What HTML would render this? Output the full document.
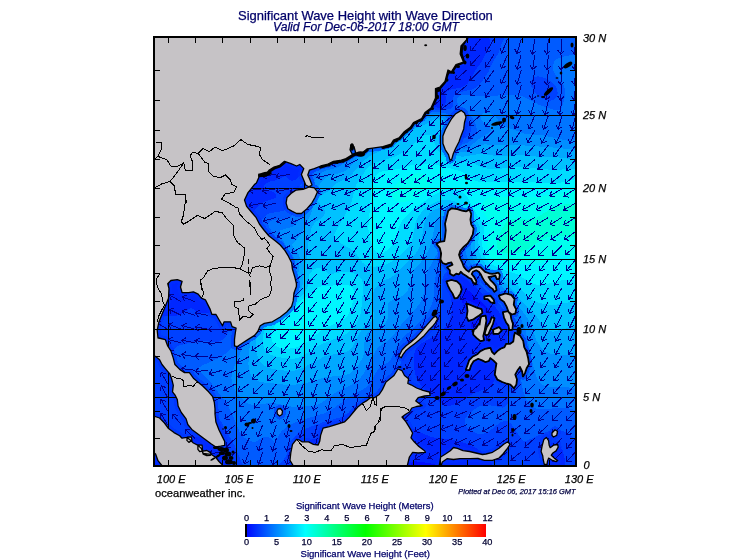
<!DOCTYPE html>
<html><head><meta charset="utf-8"><title>Significant Wave Height with Wave Direction</title>
<style>html,body{margin:0;padding:0;background:#fff}svg{display:block}text{font-family:"Liberation Sans",sans-serif;stroke-width:.25px}</style>
</head><body>
<svg width="755" height="560" viewBox="0 0 755 560">
<rect width="755" height="560" fill="#fff"/>
<defs><clipPath id="c"><rect x="153" y="36" width="424" height="431"/></clipPath></defs>
<g clip-path="url(#c)" shape-rendering="crispEdges">
<rect x="153" y="36" width="424" height="431" fill="#000dff"/>
<path fill="#0027ff" fill-rule="evenodd" d="M153,36 577,36 577,468 449.8,468 429,463 415,461.3 405,462.9 393.6,468 203.3,468 201,465.1 199,464.5 193,465.5 187,468 153,468ZM258.5,104 253,106.5 248.2,110 244.3,114 240.6,120 238.5,126 237.8,132 238.6,138 241.2,144 245.9,150 250.6,154 260.7,160 269,163.4 275,164.1 293,161 296.3,158 299,153.2 304.1,138 304.9,132 304.5,126 303,120.4 301,116.6 297.2,112 293,108.8 283,104.2 271,102.1 265,102.5ZM235.1,242 231.2,244 229.2,246 226.9,250 225.8,254 226.1,262 229.5,268 236.7,272 247,273.3 257,272 261.6,270 265,267 266.6,264 266.9,260 265,255.1 261,250.6 255,246.6 247,243.1 241,241.7ZM458.7,286 458.2,288 459,292 465,310.8 469.5,320 472.2,332 475,338.2 477,340.3 479,341.1 481,340.9 489,336 495,335.5 497,334.7 499.4,332 499.7,328 497,322.5 487.9,308 463.5,286 461,285Z"/>
<path fill="#0041ff" fill-rule="evenodd" d="M153,36 159.2,36 153,43.4ZM489,36 577,36 577,468 565,468 564.6,458 562.6,450 559,445.1 555,443.4 551,443.5 547,445.1 545,446.7 543,450 543,457 547.1,468 494,468 489.6,460 485,454.6 475.9,448 469,444.2 451,439.5 431,437.1 413,428.7 407,427 399,426.4 385,427.8 377,430 369,434.7 356.2,446 351,448.1 347,446.3 339,440 333,437.4 325,436.5 313,439.1 309,441 305,444.5 296.4,458 292.2,468 229,468 225.5,454 223,448 219,442.5 213,437.5 209,435.8 205,435.3 191,438.1 183,438 177,436.2 163,428.9 153,427.4 153,316.1 171,316.3 177,315.6 183,313.2 191,307.7 199,312.9 203,313.4 209,312.6 215,309.4 227.3,298 235,292.9 243,289.3 265,282 271,278.7 274,276 277,271.3 278.6,266 278.7,262 277.7,258 271,246.6 254.1,230 251.3,224 250.8,220 251.4,216 255,209.5 261,203.4 265,201.4 275.8,198 276.5,196 275,193 263.5,188 264,186 265.6,184 269,181.7 275,180.5 285,176 291,180.8 295,180.3 301.7,174 309,159.8 320,144 324.4,136 329.1,124 338.2,94 341,88 345,82.2 351,77 359,73.3 369,71.9 379,73 385,75 393,79.2 429.5,104 435,106.9 439,107.9 443.5,106 445.3,104 446,102 445.4,94 447,91.7 451,89.3 461,87.7 467.1,84 470.5,80 475.5,70 481.4,62 490,46 490.2,42ZM455.6,276 451,279.2 449,284 449,290 451.6,302 451.9,308 451,316 448,324 443.3,330 439,333.6 423,342.4 418.1,346 415,350.7 413.5,358 413.8,366 415,373.3 417,379 420,384 425,389.4 439.9,402 445,405.1 449,406 455.3,404 473,393.7 488,388 492.7,384 496.2,376 500.9,358 506.9,340 507.9,334 507.4,328 505,321.4 499,311.8 491.3,302 467,279.3 461,276.1Z"/>
<path fill="#005bff" fill-rule="evenodd" d="M502.3,42 505.5,36 577,36 577,440.3 571.4,436 563,431 555,429.6 547,431.7 525,441.4 523,440.8 521,438.8 511.5,424 507,420.9 505,420.7 501,422 489,431.3 483,434 479,434.1 473.5,432 469,429.2 466,426 464.6,422 465.5,418 469,413.5 477,407.6 481,405.8 487,404.7 503,407.6 505,406.8 507.4,404 509.4,396 510,374 513.9,344 514.2,334 512.7,326 510.3,320 505,311.2 497,300.8 467,272.8 461,268.9 455,267.2 451,268 447.9,270 445,273.3 442.7,278 441.7,284 441.8,304 440.5,310 437.9,316 431,324.8 413,338.9 408.4,344 405.3,350 399.2,368 389,381.6 387.7,394 384.6,400 381,402.8 377,404.3 361,405.1 341,417.1 323.8,422 305,428.8 299,431.8 295,436.4 291,448 288.9,452 283,460.3 276,468 244.6,468 242.3,464 234.8,446 216.8,414 213,409.4 198.6,396 185,385.2 179.3,378 174.6,368 172.2,360 172.1,354 173.5,350 175.1,348 179,345.5 195,341.6 203,340.9 215,342.2 219,341.5 222.4,340 225,337.7 227.2,334 234,314 237.7,308 241.2,304 251,296.9 275,286 281,280.6 283.3,276 284.8,270 285.5,264 285,259.2 276.1,244 262.6,228 261.3,224 262,220 264.9,216 269,213.4 283,210.9 287.5,208 290.3,204 295.9,192 313,165.9 317,161.4 332.2,148 349,121.5 358.8,110 365,105.3 373,101.3 379,99.6 387,98.7 395,99.1 405,100.9 437,110.2 444.4,110 451,108.8 453.2,106 452.7,98 455,94.2 459,92.3 473,89.2 477,86.9 480.1,84 488.4,72 492.8,62 498.2,54ZM533.1,78 530.7,82 531.2,86 534.6,92 538.4,96 543,98.8 549,100.8 553,100.3 556.1,98 557.7,94 557.4,90 555.3,86 551,81.8 547,79 541,76.6 537,76.4ZM460,120 458.2,124 458.4,132 461,136.6 463,137.8 465,137.8 467,136.9 469.7,134 471.2,130 470.9,126 469,122.1 467,120.2 463,118.9Z"/>
<path fill="#0075ff" fill-rule="evenodd" d="M565,56 577,54.6 577,411.4 571,408.8 567,408.2 537,408.8 533,407.3 529,403.7 525,397 521.8,386 521,376 520.6,338 518.9,328 515.9,320 508.5,308 498.8,296 476.8,276 459,258.1 455,255.7 453,255.4 449,256.6 445,259.7 441,264.5 436.8,272 434.6,280 434.3,292 433,300 431,306.3 427,313.6 421,320.9 403,337.7 398.8,344 391,359.1 388.4,362 379,367.9 367,387.1 350.8,396 333.9,408 325,413.1 299,420.9 287.6,426 280.8,432 275,442.9 270.2,438 267,436.8 263,437.3 255,442.2 249,440.7 243,436.6 239.7,432 231.2,412 225.7,402 211,382.8 198.5,370 198.8,368 201.2,366 219,357.9 227,352.6 231,348.6 235,341.7 241.2,320 244.4,314 249.3,308 259,300.8 281.4,290 285,287.3 287.3,284 289,278 290.3,268 290.4,262 289.7,258 269,227.1 268.2,224 269.1,222 273,219.7 287,219 291.8,216 296.2,210 304.1,190 315,171.6 321,166.2 333,160.7 337,158 342.3,152 353.5,136 361,127.3 371,118.9 381,113.5 393,110.2 405,109.4 441,112.5 447,113.7 450.7,116 452.2,118 453.9,132 455.6,138 459,142.3 463,144 467,143.2 471.2,140 475.9,134 477,130 475.7,124 471.2,116 461.6,110 459,107 456.6,100 457.1,98 459,96 461,95.3 465,94.9 481,96.3 517,94.6 523,96.3 539,104.8 555,110.1 559,110.5 561,109 563,104.3 564.9,96 565.2,90 563,84 554.7,74 553.2,70 552.9,66 554,62 557,58.7Z"/>
<path fill="#008eff" fill-rule="evenodd" d="M435,114 441,114.6 444.5,116 446.9,118 449,122 450.2,134 451.7,140 455,144.9 461,148.4 465,148.6 469,147 479,139 490.2,132 491,130 490.2,128 483,122.1 481,119.3 481,115.7 483,113.2 485,112.6 491,113.5 495.3,116 502.3,126 525.9,134 543,135.4 567,140.6 577,140.4 577,388.2 565,387.2 549,387.5 543,385.2 539,381.7 536.9,378 533,365.8 525.5,330 520.7,318 511.3,304 503.1,294 481,274.8 472.7,266 468.6,260 465.9,254 464.2,240 463,236 459,232.1 455,231.1 451,231.9 447,235.5 427,272 425.1,278 423.6,294 421.5,300 419,304.5 414.8,310 403,322.2 393,335.8 385,342.9 379,346.5 377,348.6 364.7,372 361,377.2 357,381.1 351,384.9 336.3,392 321,403.2 315,405.6 293,407 273,402.8 253,404.9 249,404.1 245,402 239,395.9 235.1,390 232.4,384 231.4,378 233,370 242.3,348 244.9,332 247.2,324 251.5,316 259,308.2 267,303.1 289,292.1 291.4,290 293.2,286 294.7,260 293.2,256 287.7,250 284,242 280.7,238 279.4,234 280.6,230 293,226.8 299,220.6 303.3,212 308,194 315.1,180 319,174.5 325,170.7 336.1,168 343,164.2 359,144 373,131.3 385,123.6 399,118.1 411,115.9Z"/>
<path fill="#00a8ff" fill-rule="evenodd" d="M437,115.9 442.6,118 445.3,122 446.6,138 449,144.6 453,149.2 459,152.1 463,152.5 467,151.9 471.8,150 479,145.3 485,144.3 499,145.5 519,145.1 559,147.9 577,150.4 577,354.6 557,354.6 551,353.9 545,351.4 541,347.8 536.1,340 530.6,324 527.6,318 512.6,298 503.6,288 483,271.8 474.8,262 472,256 471,252 471.3,236 470.8,232 469,227.6 465,223.8 457,219.5 449,216.8 443,216 439,216.7 437,218 435.8,220 432.4,238 429.5,248 423,259.8 413.8,270 408,290 403,295.5 388.8,302 388.2,304 388.5,316 387.3,320 384.9,324 381,327 371,330.4 366.7,334 364.6,340 364.2,352 363,357.2 359,364 351.9,372 349,374 345,375.2 325,377.2 307,382.8 295,384.6 285,384.7 265,382.6 259,381.5 255,379.7 252.8,378 250.2,374 248.4,364 250.4,336 252.3,328 257,318.9 263.4,312 272.4,306 293,295.1 295,293.8 297,290.8 298.4,284 298.3,274 299.7,258 297.7,252 292.8,248 292.3,244 299.8,236 311,214 312.1,210 311.7,202 312.9,196 321.4,182 325,178.1 328.6,176 343,172 346.7,170 350.8,166 359,155.6 365,149.7 393.6,130 409,123Z"/>
<path fill="#00c2ff" fill-rule="evenodd" d="M433,119.9 437,118.6 439,119.2 441,121.6 441.8,126 441.5,138 443.8,146 449,152.5 456,156 463,156.7 481,153.6 499,156.5 521,154.6 539,156.9 559,157.5 577,159.8 577,325.9 553,331.7 549,331.2 545,328.6 536.4,316 523,302.9 511,288 504,282 487,270.5 479.2,262 477.1,258 475.3,252 474.9,246 475.8,230 475.2,226 473.9,224 465,216.3 457,210.9 449,207.9 441,207.5 433,210.3 428.9,214 426.4,218 424.2,224 421,243.8 419,248.6 415.4,254 395,274.5 391,277.3 381,282.2 375,288.2 372.4,294 371.4,300 372,306 374.2,314 374.1,318 372.7,320 365,325.7 361.3,330 353,346 350.1,350 345,352.3 325,356.1 303,367.9 295,370.5 287,370.8 277,369.8 269,368.1 264.7,366 259,360.1 256.2,352 256.1,340 258,330 261.9,322 267.2,316 273,311.6 297,296.4 299.4,294 301.6,290 302.8,284 302.5,274 307,258 308.5,242 311.6,228 315,222.4 321.8,218 324.8,214 324.7,210 318.5,202 318.2,200 319,197.6 321,195.4 329,190.8 337,182.8 345,179.3 351,175.3 363,161.4 369,156.5 387,147.1 411,130.4 427,123.5Z"/>
<path fill="#00dcff" fill-rule="evenodd" d="M423,135.8 427,134.7 429,134.7 431,135.7 437.7,150 441,154.2 447,158.6 457,161.8 471.9,162 481,167.1 485,168.4 497,169 521,166.7 549,169.6 577,169.4 577,300.9 553,305.2 545,304.4 537,302.2 531,299.4 527,296.4 518.1,286 513,281.4 489,267.4 482.3,260 479.2,252 478.3,242 479.9,228 478.9,224 463,206.3 459,203.4 453,200.7 445,199.8 437,201.4 429,205.5 423.5,210 418.6,216 415.6,222 412.3,240 409.2,246 404,252 397.1,258 391,262 385,264.8 379,266.3 373,266.7 369,266.2 365,264.7 361.9,262 356.4,254 353,250.4 335.6,240 334.2,238 334.4,234 350,206 352.1,200 354.3,190 356.7,184 365.8,170 369.8,166 375,162.9 393,157.3 404.2,152 411,147 419,138.2ZM317,267.9 321,268.3 329,273.9 331,274.2 343,271.5 349,271.8 357,274.8 361,278 363.3,284 363.5,290 361.9,300 361.2,312 358.2,320 353,328 347,333.3 341,336.4 321,344.3 301,356.8 295,358.5 289,358.8 275,356.4 269,354.2 264.7,350 263,344 263.5,334 266.4,326 273,318.3 289,306.8 303.4,294 306.2,290 307.8,286 309.5,274 313,269.9Z"/>
<path fill="#00f6ff" fill-rule="evenodd" d="M429,163.9 435,164.4 459,170.7 465,173.6 473.1,180 481,182.4 529,182.1 557,183.5 571,179.8 577,179.1 577,280.2 561,280.4 545,284.5 537,285 531,282.8 517,274.1 499,268 491,263.9 485.5,258 482.8,250 481.9,242 484.2,230 483.5,224 476.4,214 467,196.5 463,192.5 457,190.3 447,190.2 439,192.6 431,196.7 417.8,206 408,214 402.7,220 398.5,228 395.2,240 390,248 387,250.7 383,252.8 379,253 376.7,252 373.1,248 371.4,244 369.3,236 368.3,228 371.3,190 372.9,182 375.4,176 379,172.5 383,171.2 397,169.3 411,165.3ZM321,286.4 345,284.6 349,285.5 352.8,288 354,292 352.8,302 350.6,310 347,316.4 341,321.5 329,326.1 323,329.3 307,342 299,346.6 293,348.3 285,348.9 279.8,348 275.8,346 272.5,342 271.4,338 271.8,332 274.5,326 291,312 301,300 307.8,296 317,288.1Z"/>
<path fill="#00ffee" fill-rule="evenodd" d="M413,173.7 419,173.3 422.9,174 429,177.4 430.7,180 431,182 428.3,188 419.5,196 411,200.6 403,202.1 399,201.7 395,200 393,198 391.6,194 392,190 394,186 398,182 405,177.2ZM573,189.9 577,189.8 577,258.3 561,254.6 557,255.5 541,262.8 531,264.1 505,263.2 497,261.2 491,257.6 488.3,252 487.1,244 489.9,230 489.7,224 488.3,220 482.8,212 482,208 482.4,204 485,199.7 489,197.5 497,196.3 523,197.4 535,196.9 555,194ZM327,303.8 329,303.2 331.4,304 329,305.9 327,305.9ZM297,323.3 299,322.3 301,323 301,328 298.2,332 295,332.9 293,331.8 292.3,330 292.7,328Z"/>
<path fill="#00ffd4" fill-rule="evenodd" d="M567,203.8 577,204 577,237.2 559,235.8 549,236.7 543,239.1 526.6,250 519,252.5 505,253.3 501,252.2 498.2,250 496.8,246 497.3,240 501,230.6 507,221.1 513,218.7 527,219.6 533,219 537,217.4 552.3,208 559,205.5Z"/><path d="M278,409 280.5,408.5 282.5,411 282,414.5 279.5,416 277.3,414 277,411ZM187.2,437.2 191.3,436.8 191.9,440.4 188.9,442.4 186.9,440.4ZM197.9,444.8 202.1,445.2 202.6,451.1 199.7,451.7 197.9,449.3ZM202.6,451.1 206.8,450.5 211,452.9 210.4,455.3 206.8,455.6 203.2,454.1ZM153,36 466.7,36 466.7,39.6 461,46 460.2,54 463.5,62 456,64.5 451.4,71.8 448,70 445,81.4 440,87 435.5,88.5 435.5,98 431,108 425,112.5 421.7,118.5 413.5,122.5 410.3,127.3 403.9,132.1 399,137.8 393.5,140.2 391,144.2 383,146.6 372.6,148.2 367,149 362,153 355.7,153 354,146.6 351,145 350,149.8 352.5,154.6 346,158.6 340,160.5 333.5,161.3 327,164.5 320.7,166 314.3,168.6 309.4,170.2 307.8,175 310,179.7 312,185 308.9,186.7 305.7,185 303.6,179.7 301.4,174.4 303.8,168.6 299.8,164.5 296.6,166 291,163.7 284.5,161.3 279.7,165.3 274,167 269.3,170 266,174.2 258.8,174.2 258.8,177.4 256.4,183 254.4,184.6 248,192.6 244.5,200 246.6,206.4 251.4,212 256.2,217.7 259.4,224 264.3,230.5 269,236 275.5,241 280.3,245 285,250.6 288.4,256.2 291.6,262.7 292.4,269 294.8,277 296.4,283.5 296.4,286.4 294,292.9 293.2,300.9 291.6,306.5 286.7,312 280.3,317 272.3,321.8 264.3,323.4 260.2,325.8 257.8,331.4 254.6,335.4 248.2,339.4 241.8,343.5 237,346.7 234.5,345.9 234.5,339.4 235.3,333 236.1,328.2 232.1,326.6 230.5,321.8 224.1,321.8 222.5,325.8 219.3,320.2 216,314.5 211.8,314.3 210.2,309.4 207.8,304.6 205.4,299.8 201.4,298.2 198.2,294.2 193.4,291.8 188.6,292.6 182.1,292.6 180.5,287 182.1,281.3 177.3,279.7 170.9,280.5 167.7,283.7 169,288.6 168.5,298.2 165.3,306.2 162,314.3 158.8,322.3 157.2,330.3 158,338 158.8,338 165.3,339.6 167.7,346 170.9,350.9 173.3,358.1 174.9,364.5 179.7,369.4 184.5,372.6 189.4,372.6 193.4,378.2 198.2,382.2 203,386.2 208.6,391.8 212.7,396.7 214.3,402.3 215,408.7 215,414 215.9,422 219,430 222.3,436.6 224.7,441.4 224.7,445.4 220.7,446.2 215.9,447 211,443.8 204.6,439 198.2,434.2 191.8,429.4 187.8,424.5 186.1,418.9 181.3,412.5 178.1,406 177.3,399.6 174.9,394.8 172.5,391.8 173.3,385.4 171.7,379 170,374.2 166,369.4 162,364.5 159.6,359.7 155.6,356.5 153,356ZM314.3,187.8 317.5,191.8 315,197.5 311.8,203.1 307,208.7 301.4,213.5 296.6,213.5 291.8,211.1 287.8,208.7 286.1,203.1 287,197.5 291,193.5 295.8,190.2 303,189.4 309.4,187ZM153,416 155,416.5 159.6,418 164.5,423 168.5,428.5 174,432.6 179.7,435.8 182,438.2 187,437.4 190,439.8 193.4,443 198.2,445.4 201.4,448.6 203,453.5 211,454.3 215.9,457.5 219,461.5 222.3,464.7 222,467 163,467 158,460.7 155.6,454 153,452ZM294,467 290,460.3 290.9,452.3 292.5,444.3 296.5,439.4 299.7,440.2 302,441.8 308.6,441.8 313.4,444.3 318.2,445 319.8,441 320.6,435.4 323,428.2 329.4,426.6 337.5,424.2 344.7,421.8 348.7,417.8 353.5,412 357.5,407.3 362.4,403.3 366.4,400.9 370.4,397.7 374.4,397.7 379.2,394.5 382.4,389.6 386,382 394,375.5 398,369 402,370.7 404.5,375.5 408.6,378.7 407.8,383.5 411,384.8 416.6,388 423,390.4 429.4,392 430.2,395.3 424.6,396 418.2,397.7 415.8,400.9 419.8,404 422.2,405.7 416.6,406.5 411.8,408 409.4,412 405.3,414.5 402,417 406,421.8 409.4,427.4 412.6,433 411,437.8 414.2,441.8 418.2,445.9 424.6,450.7 425.4,452.3 418.2,453 412.6,452.3 409.4,457 407,467ZM398.9,356.2 402.1,349.8 406.1,345.8 411,342.1 415.8,337.8 419.8,333.4 423.8,328.9 427,324.9 430.7,320.6 433.5,317.3 435.9,316.1 437.5,319 435.4,322.8 432.2,326.8 428.2,330.8 424.1,335.7 419.5,339.8 415,343.4 410.2,347.1 405.7,350.8 402.9,354.6 401.3,357.8ZM448.5,210.9 451.7,208.5 457.3,209.3 462,210.9 466,211.7 469.4,210 471,214 470.2,219.7 471,224.5 473.4,228.5 472.6,234.2 470.2,239 467.5,243.3 463.5,246.7 460.1,250.7 458.8,254.7 460.1,258.7 462.1,262.8 463.5,266.8 466.1,270.1 468.8,272.1 470.2,270.1 472.8,268.1 476.9,266.8 480.2,267.4 482.9,270.1 484.9,272.1 488.9,273.5 492.2,274.1 495.6,273.5 498.3,272.8 499.6,274.8 498.9,278.8 496.9,278.8 495.6,275.5 492.2,276.1 488.2,276.8 490.2,280.2 492.9,282.8 495.6,286.2 496.3,290.2 494.3,291.5 492.9,288.9 490.2,286.9 487.6,284.2 484.9,281.5 482.9,278.2 480.9,274.1 478.9,271.5 476.2,270.1 472.8,271.5 471.5,274.1 474.2,277.5 476.2,281.5 475.5,284.2 472.8,281.5 471.5,278.8 468.8,277.5 466.1,275.5 462.8,273.5 460.8,271.5 458.8,274.1 456.1,273.5 453.4,275.5 450.1,273.5 450.1,270.1 447.4,267.4 450.1,266.1 452.8,264.8 451.4,262.1 448.1,262.8 446.1,264.1 442.7,262.8 440.7,259.4 441.4,253.4 440,248 436.7,244 439.6,242.2 444.5,241.4 445.3,236.6 446,230.2 445.3,223.7 446.9,217.3ZM446.7,281.5 451.4,280.2 456.8,281.5 460.1,284.8 461.5,289.5 460.1,293.5 457.4,297.6 454.8,298.2 452.8,293.5 450.1,289.5 448.1,285.5ZM499.1,295.8 505.5,293.7 511.1,295 514.3,299 513.5,304.6 515.9,309.4 515.1,313.5 511.9,314.3 508.7,311.8 506.8,306.5 504.2,301.7 500.4,299ZM466.9,303.8 471,305.4 476.6,307.8 481.4,309.4 482.2,312.7 478.2,315.9 473.4,319.1 468.6,320.7 466.9,316.7 467.8,311ZM484.6,296.6 490.2,295.8 493.5,299.8 494.3,303 491,302.2 487.8,299 484.6,299ZM503.1,312.3 507.9,311.4 510.3,314.6 511.1,319.1 512.7,323.9 512.2,329.5 509.5,330 508.7,325.5 506.3,322.3 504.2,317.5ZM481.4,316.7 485.4,315.9 486.2,320.7 485.4,324.8 484.6,329.6 483,336.1 483.8,340.1 480.6,340.9 476.6,337.7 473.4,334.5 473.4,330.4 476.6,328 479,324 479.8,324.7 480.6,319.1ZM491.8,317.5 494.3,318.3 492.7,323.9 490.2,329.5 488.2,334.3 486.2,335.1 484.9,333.5 487,327.1 490.2,322.3ZM493.5,329.7 499.1,327.3 501.5,330.5 498.3,333.7 493.5,333.7ZM515,332.9 520,336 523,340.9 524,347.3 526.4,352 528,358.6 528.8,364.2 526.4,368.2 524.8,373 523,376.2 522.4,371.4 520,366.6 517.6,369.8 515,374.6 516.7,379.4 516.2,384.3 514,388 510.3,384.3 507,383.5 502.3,381.8 497.5,379.4 495,374.6 495.9,368.2 496.7,363.4 493.5,360.2 490.2,357.8 488.6,361 485.4,361.8 482.2,360.2 478.2,358.6 473.4,361 471,365 469.4,369.8 466,369.8 467.8,365 469.4,360.2 472.6,357 477.4,354.5 480.6,351.3 485.4,349 490.2,348 491.8,352 494.3,354.5 497.5,351.3 500.7,349 504.7,347.3 506.3,344 510.3,344 513.5,341.7 514.3,336ZM461.3,110.4 464.5,112.9 466,116.9 464.5,122.5 463.7,128.9 461.3,135.3 459,141.8 455.7,148.2 453.3,153.8 451.7,159.4 450,160.2 448.5,154.6 445.3,149.8 442.9,143.4 442.9,136 445.3,129.7 448.5,124 451.7,118.5 455.7,113.7ZM439,467 440.7,457 445.5,454 450.3,450.7 453.5,447.5 457.5,448.3 463,450.7 469.6,451.5 476,453 482.4,454.5 486,454 492.5,452.3 499,448.3 503.7,444.3 507.8,441.8 510,444.3 507,449 503,454 499,458 492.5,460.3 484.5,460.3 478,458.5 470,458.7 466.4,458.7 460,458.7 453.5,459.5 447,458.7 442.3,462 440.7,467ZM543.8,439.6 546.4,437.5 548.6,440.7 549.1,445 550.2,447.7 553.9,445 557.7,444.5 558.2,447.1 556.1,450.9 552.9,453 551.3,455.2 554.5,458.4 557.7,460.5 556.1,461.6 551.8,460 548.6,458.1 547.5,461.1 547,464.3 544.3,464.3 543.2,459.5 542.7,455.7 541.1,451.4 542.1,446.1ZM552,433 555,429.8 557.5,431.4 556.7,435.4 553.5,437 552,435.4Z" fill="none" stroke="#0030ff" stroke-opacity="0.55" stroke-width="7" stroke-linejoin="round"/>
</g>
<g clip-path="url(#c)">
<path d="M168.5,36V467M236.5,36V467M304.5,36V467M372.5,36V467M440.5,36V467M508.5,36V467M153,397.5H577M153,329.5H577M153,259.5H577M153,188.5H577M153,115.5H577" stroke="#000" stroke-width="1" fill="none"/>
<path d="M167.6,424.7L160.7,413.4M159.9,418.3L160.7,413.4L165.5,414.9M167.6,411.1L161,399.6M160,404.5L161,399.6L165.7,401.2M167.6,397.5L161.4,385.8M160.2,390.7L161.4,385.8L166,387.6M167.6,383.9L161.1,372.3M160.1,377.2L161.1,372.3L165.8,374M167.6,329.2L156.1,322.3M157.6,327.1L156.1,322.3L161,321.4M181.2,424.7L172.7,414.5M172.6,419.5L172.7,414.5L177.7,415.3M181.2,356.6L168.7,352M171.1,356.4L168.7,352L173.4,350.2M181.2,342.9L168.2,339.6M171.1,343.7L168.2,339.6L172.7,337.3M181.2,329.2L168.7,324.2M171,328.7L168.7,324.2L173.4,322.6M181.2,315.4L169.2,309.4M171.1,314L169.2,309.4L174,308.1M181.2,301.6L169.4,295M171.1,299.7L169.4,295L174.3,294M194.8,438.2L185,429.3M185.6,434.3L185,429.3L190,429.4M194.8,370.3L181.6,368.5M184.9,372.3L181.6,368.5L185.8,365.8M194.8,356.6L181.6,354.5M184.8,358.4L181.6,354.5L185.9,351.8M194.8,342.9L181.7,340.1M184.7,344.1L181.7,340.1L186.1,337.7M194.8,329.2L181.9,325.4M184.6,329.7L181.9,325.4L186.5,323.3M194.8,315.4L182.1,310.9M184.6,315.2L182.1,310.9L186.8,309M194.8,301.6L182.2,296.8M184.5,301.2L182.2,296.8L186.9,295.1M208.4,383.9L195.2,385.5M199.4,388.3L195.2,385.5L198.6,381.8M208.4,370.3L195.2,371.6M199.2,374.5L195.2,371.6L198.6,367.9M208.4,356.6L195.1,356.1M198.7,359.6L195.1,356.1L198.9,353M208.4,342.9L195.2,340.6M198.4,344.5L195.2,340.6L199.5,338M208.4,329.2L195.2,326.9M198.3,330.8L195.2,326.9L199.5,324.3M208.4,315.4L195.2,312.8M198.3,316.8L195.2,312.8L199.5,310.3M222,451.8L209,454.1M213.3,456.7L209,454.1L212.1,450.2M222,411.1L209.3,414.8M213.9,416.9L209.3,414.8L212,410.6M222,397.5L209.7,402.5M214.4,404.1L209.7,402.5L212,398M222,383.9L210,389.5M214.8,390.9L210,389.5L212,384.9M222,370.3L209.2,373.9M213.7,376L209.2,373.9L211.9,369.7M222,356.6L208.8,358.1M212.9,361L208.8,358.1L212.1,354.4M222,342.9L208.6,343.1M212.4,346.4L208.6,343.1L212.3,339.8M222,329.2L208.6,329.2M212.4,332.5L208.6,329.2L212.4,325.9M235.6,465.3L226.3,474.7M231.3,474.3L226.3,474.7L226.6,469.7M235.6,451.8L226.7,461.5M231.6,460.9L226.7,461.5L226.8,456.5M235.6,438.2L226.1,447.4M231.1,447.1L226.1,447.4L226.5,442.4M235.6,424.7L225.3,433M230.3,433.2L225.3,433L226.2,428.1M235.6,411.1L224.9,418.9M229.9,419.3L224.9,418.9L226,414M235.6,397.5L224.6,404.8M229.5,405.5L224.6,404.8L225.9,400M235.6,383.9L224,390.4M228.9,391.4L224,390.4L225.7,385.7M235.6,370.3L223.4,375.5M228.1,377L223.4,375.5L225.5,371M235.6,356.6L222.8,360.5M227.4,362.5L222.8,360.5L225.5,356.2M235.6,329.2L222.5,332.1M226.9,334.5L222.5,332.1L225.5,328M249.2,465.3L243.2,477.1M247.9,475.2L243.2,477.1L242,472.2M249.2,451.8L244.3,464M248.8,461.7L244.3,464L242.7,459.3M249.2,438.2L243.3,450M247.9,448.1L243.3,450L242,445.2M249.2,424.7L242,435.7M246.8,434.4L242,435.7L241.3,430.8M249.2,411.1L240.7,421.2M245.6,420.5L240.7,421.2L240.6,416.2M249.2,397.5L239.5,406.5M244.5,406.4L239.5,406.5L240,401.5M249.2,383.9L238.2,391.4M243.2,392L238.2,391.4L239.5,386.5M249.2,370.3L237.8,377M242.7,378L237.8,377L239.3,372.3M249.2,356.6L237.5,363M242.4,364.1L237.5,363L239.2,358.3M249.2,342.9L237.2,348.8M242.1,350.1L237.2,348.8L239.1,344.2M262.8,465.3L258.3,477.7M262.7,475.3L258.3,477.7L256.5,473M262.8,451.8L258.8,464.3M263.1,461.8L258.8,464.3L256.8,459.8M262.8,438.2L258.4,450.7M262.8,448.2L258.4,450.7L256.6,446M262.8,424.7L257.7,436.8M262.2,434.6L257.7,436.8L256.1,432.1M262.8,411.1L256.3,422.6M261,421L256.3,422.6L255.3,417.7M262.8,397.5L254.7,408M259.6,407L254.7,408L254.4,403M262.8,383.9L253.5,393.4M258.5,393L253.5,393.4L253.8,388.4M262.8,370.3L252.8,379M257.8,379L252.8,379L253.5,374.1M262.8,356.6L252.4,365M257.4,365.2L252.4,365L253.3,360M262.8,342.9L251.9,350.6M256.9,351.2L251.9,350.6L253.1,345.8M262.8,329.2L251.4,336.3M256.4,337.1L251.4,336.3L252.9,331.5M262.8,203.1L249.1,205.7M253.4,208.2L249.1,205.7L252.2,201.8M262.8,188.8L248.9,190.6M253,193.4L248.9,190.6L252.2,186.8M276.4,465.3L272.5,477.9M276.7,475.3L272.5,477.9L270.4,473.3M276.4,451.8L272.9,464.5M277.1,461.7L272.9,464.5L270.7,460M276.4,438.2L272.7,450.9M276.9,448.2L272.7,450.9L270.6,446.4M276.4,424.7L272.3,437.2M276.6,434.7L272.3,437.2L270.3,432.6M276.4,411.1L271.2,423.3M275.7,421.1L271.2,423.3L269.7,418.5M276.4,397.5L269.9,409M274.6,407.4L269.9,409L268.8,404.1M276.4,383.9L268.7,394.7M273.6,393.6L268.7,394.7L268.2,389.7M276.4,370.3L267.9,380.5M272.9,379.7L267.9,380.5L267.8,375.5M276.4,356.6L267.3,366.3M272.3,365.8L267.3,366.3L267.5,361.3M276.4,342.9L266.7,352.1M271.7,351.9L266.7,352.1L267.1,347.1M276.4,329.2L266.1,337.8M271.1,337.9L266.1,337.8L266.9,332.8M276.4,231.6L263.3,236.1M268,238L263.3,236.1L265.8,231.7M276.4,217.4L263.1,221.2M267.6,223.4L263.1,221.2L265.8,217M276.4,203.1L262.8,206.1M267.2,208.6L262.8,206.1L265.7,202.1M276.4,188.8L262.5,191.1M266.8,193.7L262.5,191.1L265.7,187.2M276.4,174.3L262.4,176.2M266.6,179L262.4,176.2L265.7,172.4M290,465.3L286.2,478M290.5,475.3L286.2,478L284.1,473.4M290,451.8L286.6,464.5M290.8,461.7L286.6,464.5L284.4,460M290,438.2L286.6,451M290.7,448.2L286.6,451L284.4,446.5M290,424.7L286.2,437.3M290.4,434.7L286.2,437.3L284.1,432.7M290,411.1L285.5,423.5M289.9,421.1L285.5,423.5L283.7,418.9M290,397.5L284.6,409.6M289.1,407.5L284.6,409.6L283.1,404.8M290,383.9L283.7,395.5M288.3,393.8L283.7,395.5L282.6,390.7M290,370.3L282.8,381.5M287.6,380.1L282.8,381.5L282.1,376.5M290,356.6L282.1,367.4M287,366.3L282.1,367.4L281.7,362.4M290,342.9L281.4,353.1M286.4,352.4L281.4,353.1L281.3,348.1M290,329.2L280.8,338.9M285.8,338.4L280.8,338.9L281,333.9M290,315.4L280.2,324.7M285.2,324.5L280.2,324.7L280.7,319.7M290,245.7L277.7,251.9M282.6,253.1L277.7,251.9L279.6,247.2M290,231.6L277.3,237M282.1,238.6L277.3,237L279.5,232.5M290,217.4L276.8,221.8M281.4,223.7L276.8,221.8L279.4,217.5M290,188.8L276.2,191.6M280.6,194L276.2,191.6L279.3,187.6M290,174.3L276.1,176.7M280.3,179.3L276.1,176.7L279.2,172.8M303.6,424.7L300,437.4M304.2,434.6L300,437.4L297.9,432.9M303.6,411.1L299.7,423.7M303.9,421.1L299.7,423.7L297.6,419.2M303.6,397.5L299.1,410M303.5,407.5L299.1,410L297.3,405.3M303.6,383.9L298.3,396.1M302.8,393.9L298.3,396.1L296.8,391.3M303.6,370.3L297.5,382.1M302.2,380.2L297.5,382.1L296.3,377.2M303.6,356.6L296.7,368M301.5,366.5L296.7,368L295.8,363.1M303.6,342.9L296,353.9M300.8,352.7L296,353.9L295.4,348.9M303.6,329.2L295.3,339.7M300.3,338.8L295.3,339.7L295.1,334.7M303.6,315.4L294.8,325.6M299.8,324.9L294.8,325.6L294.8,320.6M303.6,301.6L294.2,311.3M299.2,310.9L294.2,311.3L294.5,306.3M303.6,287.7L293.7,297M298.7,296.8L293.7,297L294.2,292M303.6,273.8L293.1,282.4M298.1,282.6L293.1,282.4L293.9,277.5M303.6,259.8L292.4,267.5M297.3,268.1L292.4,267.5L293.6,262.7M303.6,245.7L291.9,252.9M296.9,253.8L291.9,252.9L293.4,248.2M303.6,231.6L291.6,238.4M296.5,239.4L291.6,238.4L293.2,233.7M303.6,217.4L290.9,223M295.7,224.5L290.9,223L293,218.5M303.6,188.8L289.9,192M294.3,194.3L289.9,192L292.8,187.9M317.2,438.2L313.9,451M318,448.2L313.9,451L311.6,446.5M317.2,424.7L314,437.5M318.1,434.6L314,437.5L311.7,433M317.2,411.1L314,423.9M318.1,421.1L314,423.9L311.7,419.5M317.2,397.5L313.5,410.2M317.7,407.5L313.5,410.2L311.4,405.7M317.2,383.9L312.8,396.4M317.2,394L312.8,396.4L310.9,391.8M317.2,370.3L312,382.5M316.5,380.3L312,382.5L310.4,377.7M317.2,356.6L311.2,368.5M315.8,366.6L311.2,368.5L309.9,363.6M317.2,342.9L310.4,354.4M315.2,352.8L310.4,354.4L309.5,349.5M317.2,329.2L309.7,340.3M314.6,339L309.7,340.3L309.1,335.3M317.2,315.4L309.1,326.2M314,325.1L309.1,326.2L308.8,321.2M317.2,301.6L308.7,312.1M313.6,311.2L308.7,312.1L308.5,307.1M317.2,287.7L308.4,298M313.3,297.3L308.4,298L308.3,293M317.2,273.8L307.9,283.7M312.9,283.2L307.9,283.7L308.1,278.7M317.2,259.8L307.1,269M312.1,268.9L307.1,269L307.7,264M317.2,245.7L306.5,254.3M311.5,254.6L306.5,254.3L307.4,249.4M317.2,231.6L306.1,239.8M311.1,240.2L306.1,239.8L307.2,234.9M317.2,217.4L305.4,224.6M310.3,225.5L305.4,224.6L306.8,219.9M317.2,203.1L304.2,208.2M308.9,209.9L304.2,208.2L306.5,203.8M317.2,174.3L303.4,177.2M307.7,179.7L303.4,177.2L306.4,173.2M330.8,411.1L327.9,424M332,421L327.9,424L325.5,419.6M330.8,397.5L327.7,410.4M331.8,407.5L327.7,410.4L325.4,406M330.8,383.9L327.2,396.6M331.4,393.9L327.2,396.6L325,392.1M330.8,370.3L326.3,382.8M330.7,380.4L326.3,382.8L324.5,378.1M330.8,356.6L325.5,368.8M330,366.7L325.5,368.8L323.9,364M330.8,342.9L324.7,354.8M329.4,353L324.7,354.8L323.5,350M330.8,329.2L324,340.7M328.7,339.2L324,340.7L323.1,335.8M330.8,315.4L323.4,326.6M328.2,325.3L323.4,326.6L322.7,321.6M330.8,301.6L323.1,312.6M327.9,311.4L323.1,312.6L322.5,307.7M330.8,287.7L322.9,298.7M327.8,297.6L322.9,298.7L322.4,293.7M330.8,273.8L322.7,284.7M327.6,283.7L322.7,284.7L322.3,279.7M330.8,259.8L322.3,270.5M327.3,269.6L322.3,270.5L322.1,265.5M330.8,245.7L321.6,255.9M326.6,255.3L321.6,255.9L321.7,250.9M330.8,231.6L320.6,240.9M325.6,240.8L320.6,240.9L321.2,235.9M330.8,217.4L319.5,225.5M324.5,226L319.5,225.5L320.6,220.6M330.8,203.1L318.1,209M322.9,210.4L318.1,209L320.2,204.4M330.8,188.8L317.3,192.5M321.8,194.7L317.3,192.5L320,188.3M330.8,174.3L317,177.6M321.5,179.9L317,177.6L319.9,173.5M344.4,411.1L341.6,424M345.6,421L341.6,424L339.2,419.7M344.4,397.5L341.9,410.5M345.8,407.4L341.9,410.5L339.3,406.2M344.4,383.9L341.4,396.8M345.4,393.9L341.4,396.8L339,392.4M344.4,370.3L340.6,383M344.9,380.3L340.6,383L338.5,378.5M344.4,356.6L339.8,369.1M344.2,366.7L339.8,369.1L338,364.4M344.4,342.9L339,355.1M343.5,353L339,355.1L337.5,350.3M344.4,329.2L338.2,341.1M342.9,339.2L338.2,341.1L337,336.2M344.4,315.4L337.6,327M342.4,325.4L337.6,327L336.7,322.1M344.4,301.6L337.3,313.1M342.1,311.6L337.3,313.1L336.5,308.1M344.4,287.7L337.2,299.2M342,297.7L337.2,299.2L336.4,294.2M344.4,273.8L337,285.2M341.8,283.8L337,285.2L336.3,280.2M344.4,259.8L336.6,271M341.5,269.8L336.6,271L336.1,266.1M344.4,245.7L335.8,256.5M340.7,255.6L335.8,256.5L335.6,251.5M344.4,231.6L334.5,241.3M339.5,241L334.5,241.3L334.9,236.3M344.4,217.4L333,225.3M338,225.9L333,225.3L334.2,220.5M344.4,203.1L331.6,208.6M336.3,210.2L331.6,208.6L333.7,204.1M344.4,188.8L331.2,193.5M335.8,195.3L331.2,193.5L333.6,189.1M344.4,174.3L331,178.9M335.7,180.8L331,178.9L333.5,174.5M344.4,159.7L331.1,164.8M335.8,166.5L331.1,164.8L333.4,160.4M358,397.5L355.4,410.5M359.4,407.4L355.4,410.5L352.9,406.2M358,383.9L355.3,396.9M359.3,393.9L355.3,396.9L352.8,392.5M358,370.3L354.7,383.1M358.9,380.3L354.7,383.1L352.5,378.7M358,356.6L353.9,369.3M358.2,366.7L353.9,369.3L351.9,364.7M358,342.9L353.2,355.4M357.6,353L353.2,355.4L351.5,350.7M358,329.2L352.4,341.3M357,339.3L352.4,341.3L351,336.5M358,315.4L351.7,327.3M356.4,325.5L351.7,327.3L350.6,322.4M358,301.6L351.5,313.4M356.2,311.7L351.5,313.4L350.4,308.5M358,287.7L351.4,299.5M356.1,297.9L351.4,299.5L350.4,294.7M358,273.8L351.2,285.6M355.9,283.9L351.2,285.6L350.2,280.6M358,259.8L351,271.5M355.7,270L351,271.5L350.1,266.6M358,245.7L350.2,257M355.1,255.8L350.2,257L349.6,252.1M358,231.6L348.6,241.7M353.6,241.2L348.6,241.7L348.8,236.7M358,217.4L346.9,225.7M351.8,226.1L346.9,225.7L347.9,220.8M358,203.1L345.4,209.1M350.2,210.5L345.4,209.1L347.4,204.5M358,188.8L345.1,194.4M349.9,195.9L345.1,194.4L347.3,189.9M358,174.3L345.2,180.3M350,181.7L345.2,180.3L347.2,175.7M358,159.7L345.2,166M350.1,167.3L345.2,166L347.1,161.4M371.6,383.9L369,396.9M373,393.9L369,396.9L366.5,392.6M371.6,370.3L368.7,383.2M372.7,380.3L368.7,383.2L366.3,378.8M371.6,356.6L367.9,369.4M372.1,366.7L367.9,369.4L365.8,364.9M371.6,342.9L367.4,355.6M371.7,353.1L367.4,355.6L365.4,351M371.6,329.2L366.7,341.6M371.1,339.3L366.7,341.6L365,336.9M371.6,315.4L365.7,327.5M370.3,325.6L365.7,327.5L364.4,322.7M371.6,301.6L365.8,313.8M370.4,311.8L365.8,313.8L364.5,309M371.6,287.7L365.8,299.9M370.4,298L365.8,299.9L364.4,295.1M371.6,273.8L365.4,285.9M370.1,284L365.4,285.9L364.2,281.1M371.6,259.8L365,271.8M369.7,270.1L365,271.8L363.9,266.9M371.6,245.7L364.4,257.4M369.2,256L364.4,257.4L363.6,252.5M371.6,231.6L363.3,242.6M368.2,241.6L363.3,242.6L362.9,237.6M371.6,217.4L361.6,227.1M366.6,226.8L361.6,227.1L362,222.1M371.6,203.1L359.9,210.7M364.8,211.4L359.9,210.7L361.2,205.9M371.6,188.8L359.2,195.3M364.1,196.5L359.2,195.3L361,190.7M371.6,174.3L359.2,181.1M364.1,182.2L359.2,181.1L360.9,176.4M371.6,159.7L359.5,167.2M364.4,168L359.5,167.2L360.9,162.4M385.2,370.3L381.9,383.1M386,380.3L381.9,383.1L379.7,378.7M385.2,356.6L381.7,369.5M385.9,366.7L381.7,369.5L379.5,365M385.2,342.9L381.6,355.8M385.8,353L381.6,355.8L379.5,351.3M385.2,329.2L381.2,342M385.5,339.4L381.2,342L379.2,337.4M385.2,315.4L380.7,328.1M385,325.6L380.7,328.1L378.8,323.4M385.2,301.6L380.5,314.2M384.9,311.8L380.5,314.2L378.7,309.6M385.2,287.7L380.6,300.4M384.9,298L380.6,300.4L378.7,295.8M385.2,273.8L380.1,286.4M384.6,284.1L380.1,286.4L378.5,281.7M385.2,259.8L379.4,272.1M384,270.1L379.4,272.1L378,267.3M385.2,245.7L378.9,257.9M383.5,256.1L378.9,257.9L377.7,253.1M385.2,231.6L378.3,243.5M383,241.9L378.3,243.5L377.3,238.6M385.2,217.4L376.6,228.3M381.5,227.4L376.6,228.3L376.4,223.3M385.2,203.1L374,211.5M379,211.9L374,211.5L375.1,206.6M385.2,188.8L373,195.7M377.9,196.7L373,195.7L374.6,191M385.2,174.3L373.3,181.9M378.2,182.6L373.3,181.9L374.7,177.1M385.2,159.7L373.8,168.3M378.8,168.6L373.8,168.3L374.8,163.4M398.8,356.6L394.7,369.3M399,366.7L394.7,369.3L392.7,364.7M398.8,342.9L395.7,355.9M399.8,353L395.7,355.9L393.4,351.5M398.8,329.2L395.4,342.1M399.6,339.3L395.4,342.1L393.2,337.7M398.8,315.4L395.1,328.3M399.3,325.6L395.1,328.3L393,323.8M398.8,301.6L395.2,314.6M399.4,311.8L395.2,314.6L393,310.1M398.8,287.7L395.8,300.9M399.8,298L395.8,300.9L393.4,296.5M398.8,273.8L395.6,287M399.7,284.1L395.6,287L393.3,282.6M398.8,259.8L394.8,272.9M399.1,270.2L394.8,272.9L392.8,268.3M398.8,245.7L394.1,258.6M398.5,256.2L394.1,258.6L392.3,254M398.8,231.6L393.2,244.2M397.8,242.1L393.2,244.2L391.7,239.5M398.8,217.4L391.1,229M396,227.7L391.1,229L390.5,224M398.8,203.1L387.8,211.8M392.8,212L387.8,211.8L388.7,206.8M398.8,188.8L386.6,195.7M391.5,196.7L386.6,195.7L388.2,190.9M398.8,174.3L387.4,182.6M392.3,183.1L387.4,182.6L388.5,177.7M398.8,159.7L388.1,169.1M393.1,169.1L388.1,169.1L388.8,164.2M398.8,145.1L388.7,155.2M393.6,154.9L388.7,155.2L389,150.2M412.4,465.3L402.4,474M407.4,474L402.4,474L403.1,469M412.4,411.1L403,420.4M408,420.1L403,420.4L403.3,415.4M412.4,370.3L405.8,381.8M410.5,380.2L405.8,381.8L404.8,376.9M412.4,356.6L406.8,368.7M411.4,366.7L406.8,368.7L405.4,363.9M412.4,329.2L408.5,342M412.8,339.4L408.5,342L406.5,337.4M412.4,315.4L408.9,328.4M413.1,325.6L408.9,328.4L406.7,323.9M412.4,301.6L409.6,314.8M413.6,311.8L409.6,314.8L407.2,310.4M412.4,287.7L410.8,301.1M414.5,297.8L410.8,301.1L407.9,297M412.4,273.8L411,287.3M414.7,283.9L411,287.3L408.1,283.2M412.4,259.8L410.2,273.3M414.1,270.1L410.2,273.3L407.6,269M412.4,245.7L408.9,259M413,256.2L408.9,259L406.6,254.5M412.4,231.6L407.3,244.4M411.7,242.2L407.3,244.4L405.6,239.7M412.4,217.4L404.7,228.9M409.5,227.6L404.7,228.9L404,224M412.4,203.1L401.4,211.8M406.4,212L401.4,211.8L402.3,206.9M412.4,188.8L400.5,196.3M405.5,197L400.5,196.3L401.9,191.5M412.4,174.3L401.1,182.8M406.1,183.2L401.1,182.8L402.1,177.9M412.4,159.7L402.2,169.6M407.2,169.4L402.2,169.6L402.6,164.7M412.4,145.1L403.1,156M408.1,155.3L403.1,156L403.1,151M412.4,130.3L403.4,141.6M408.3,140.7L403.4,141.6L403.2,136.6M426,465.3L415.3,473.1M420.3,473.5L415.3,473.1L416.4,468.2M426,451.8L415.1,459.2M420,459.8L415.1,459.2L416.3,454.3M426,438.2L414.8,445.3M419.8,446.1L414.8,445.3L416.3,440.5M426,424.7L414.7,431.6M419.7,432.4L414.7,431.6L416.2,426.8M426,411.1L415,418.4M419.9,419.1L415,418.4L416.3,413.6M426,397.5L415.9,406.1M420.9,406.2L415.9,406.1L416.6,401.1M426,383.9L417.1,393.7M422.1,393.2L417.1,393.7L417.2,388.7M426,370.3L418,380.8M422.9,379.8L418,380.8L417.6,375.9M426,356.6L418.8,367.8M423.6,366.4L418.8,367.8L418.1,362.9M426,342.9L419.9,354.8M424.6,353L419.9,354.8L418.7,349.9M426,315.4L422.1,328.3M426.3,325.6L422.1,328.3L420,323.7M426,301.6L423.1,314.8M427.1,311.8L423.1,314.8L420.7,310.4M426,287.7L424.3,301.1M428,297.8L424.3,301.1L421.5,297M426,273.8L425.2,287.4M428.7,283.8L425.2,287.4L422.1,283.4M426,259.8L424.7,273.4M428.3,270L424.7,273.4L421.8,269.3M426,245.7L422.9,259.1M427,256.2L422.9,259.1L420.5,254.7M426,231.6L420.7,244.3M425.2,242.1L420.7,244.3L419.1,239.6M426,217.4L417.4,228.3M422.4,227.4L417.4,228.3L417.2,223.3M426,203.1L414.3,210.7M419.2,211.4L414.3,210.7L415.6,205.9M426,188.8L413.8,195.7M418.7,196.7L413.8,195.7L415.4,190.9M426,174.3L414.6,182.6M419.6,183.1L414.6,182.6L415.7,177.8M426,159.7L415.6,169.4M420.6,169.3L415.6,169.4L416.1,164.4M426,145.1L416.8,156.1M421.8,155.3L416.8,156.1L416.7,151.1M426,130.3L417.7,142.1M422.6,141L417.7,142.1L417.2,137.2M426,115.4L416.9,126.8M421.8,125.9L416.9,126.8L416.7,121.8M439.6,451.8L428.1,458.3M433,459.3L428.1,458.3L429.8,453.6M439.6,438.2L427.8,444.2M432.7,445.4L427.8,444.2L429.7,439.6M439.6,424.7L427.6,430.2M432.4,431.6L427.6,430.2L429.6,425.6M439.6,411.1L427.4,416.2M432.1,417.8L427.4,416.2L429.6,411.7M439.6,397.5L428.6,404.9M433.6,405.6L428.6,404.9L429.9,400.1M439.6,383.9L430.1,393.2M435.1,392.9L430.1,393.2L430.5,388.2M439.6,370.3L430.9,380.3M435.8,379.6L430.9,380.3L430.9,375.3M439.6,356.6L431.3,367M436.2,366.1L431.3,367L431.1,362M439.6,342.9L432.2,354M437,352.7L432.2,354L431.5,349.1M439.6,329.2L433.6,341.2M438.2,339.3L433.6,341.2L432.3,336.3M439.6,315.4L434.8,328M439.3,325.6L434.8,328L433.1,323.3M439.6,301.6L435.9,314.6M440.1,311.8L435.9,314.6L433.8,310M439.6,287.7L436.8,301M440.8,298L436.8,301L434.4,296.6M439.6,273.8L437.4,287.2M441.2,284L437.4,287.2L434.7,282.9M439.6,259.8L436.8,273.2M440.8,270.2L436.8,273.2L434.3,268.8M439.6,231.6L432.6,243.5M437.3,241.9L432.6,243.5L431.7,238.6M439.6,217.4L429.5,226.9M434.5,226.7L429.5,226.9L430,221.9M439.6,203.1L427.1,209.4M432,210.6L427.1,209.4L429,204.8M439.6,188.8L427,194.9M431.8,196.2L427,194.9L428.9,190.3M439.6,174.3L427.5,181.6M432.4,182.5L427.5,181.6L429,176.9M439.6,159.7L428.3,168.4M433.3,168.7L428.3,168.4L429.3,163.5M439.6,145.1L429.3,155.1M434.3,154.8L429.3,155.1L429.7,150.1M439.6,130.3L430.4,141.4M435.3,140.6L430.4,141.4L430.2,136.4M439.6,115.4L429.6,126M434.6,125.6L429.6,126L429.8,121M439.6,100.4L428.4,109.9M433.4,110L428.4,109.9L429.1,105M453.2,465.3L441.8,472M446.7,472.9L441.8,472L443.4,467.3M453.2,438.2L441.2,443.7M446,445.1L441.2,443.7L443.2,439.1M453.2,424.7L441,429.7M445.7,431.3L441,429.7L443.2,425.2M453.2,411.1L441.1,416.4M445.9,417.9L441.1,416.4L443.2,411.9M453.2,397.5L442.1,404.7M447,405.4L442.1,404.7L443.4,399.9M453.2,383.9L443.6,393.1M448.6,392.8L443.6,393.1L444,388.1M453.2,370.3L444.1,380M449.1,379.5L444.1,380L444.3,375M453.2,356.6L444.6,366.7M449.5,366L444.6,366.7L444.5,361.7M453.2,342.9L445.4,353.7M450.3,352.6L445.4,353.7L444.9,348.8M453.2,329.2L446.5,340.8M451.2,339.2L446.5,340.8L445.5,335.9M453.2,315.4L447.6,327.6M452.1,325.6L447.6,327.6L446.2,322.8M453.2,301.6L448.5,314.2M452.9,311.8L448.5,314.2L446.7,309.5M453.2,203.1L440.8,209.6M445.7,210.7L440.8,209.6L442.6,204.9M453.2,188.8L440.3,194.4M445.1,195.9L440.3,194.4L442.5,189.9M453.2,174.3L440.4,180.4M445.2,181.7L440.4,180.4L442.4,175.8M453.2,159.7L440.9,166.8M445.8,167.8L440.9,166.8L442.5,162.1M453.2,115.4L441.8,124.5M446.8,124.7L441.8,124.5L442.7,119.6M453.2,100.4L441.3,109.1M446.3,109.5L441.3,109.1L442.4,104.2M453.2,85.3L441.6,94.4M446.5,94.7L441.6,94.4L442.5,89.5M453.2,70L441.7,79.6M446.7,79.7L441.7,79.6L442.5,74.6M466.8,465.3L455.4,472M460.3,472.9L455.4,472L457,467.2M466.8,438.2L454.8,443.8M459.6,445.2L454.8,443.8L456.8,439.2M466.8,424.7L454.6,429.8M459.4,431.3L454.6,429.8L456.8,425.3M466.8,411.1L454.7,416.5M459.5,417.9L454.7,416.5L456.8,411.9M466.8,397.5L455.5,404.5M460.5,405.3L455.5,404.5L457,399.7M466.8,383.9L456.6,392.4M461.6,392.5L456.6,392.4L457.4,387.4M466.8,370.3L457.4,379.6M462.4,379.3L457.4,379.6L457.7,374.6M466.8,356.6L458,366.6M463,366L458,366.6L458,361.6M466.8,342.9L458.8,353.6M463.7,352.6L458.8,353.6L458.4,348.6M466.8,329.2L459.7,340.5M464.5,339.1L459.7,340.5L458.9,335.6M466.8,315.4L460.5,327.3M465.2,325.5L460.5,327.3L459.3,322.4M466.8,301.6L461,313.8M465.6,311.8L461,313.8L459.7,309M466.8,287.7L461.2,300.1M465.8,298L461.2,300.1L459.8,295.3M466.8,259.8L460,271.7M464.8,270L460,271.7L459,266.8M466.8,245.7L458.6,256.8M463.5,255.7L458.6,256.8L458.2,251.8M466.8,203.1L454.3,209.4M459.1,210.6L454.3,209.4L456.2,204.7M466.8,188.8L453.7,193.8M458.4,195.5L453.7,193.8L456,189.4M466.8,174.3L453.5,179.1M458.2,180.9L453.5,179.1L455.9,174.7M466.8,159.7L453.8,165.4M458.5,166.9L453.8,165.4L455.9,160.9M466.8,145.1L454.2,151.8M459,153L454.2,151.8L455.9,147.2M466.8,100.4L455.3,109.6M460.3,109.8L455.3,109.6L456.2,104.6M466.8,85.3L455.5,94.9M460.5,94.9L455.5,94.9L456.2,89.9M466.8,70L455.6,79.9M460.6,79.9L455.6,79.9L456.2,74.9M466.8,54.6L455.8,64.9M460.8,64.8L455.8,64.9L456.3,60M480.4,465.3L469.1,472.2M474.1,473L469.1,472.2L470.6,467.4M480.4,438.2L468.7,444.3M473.6,445.5L468.7,444.3L470.5,439.7M480.4,424.7L468.5,430.5M473.4,431.8L468.5,430.5L470.5,425.9M480.4,411.1L468.7,417.2M473.5,418.4L468.7,417.2L470.5,412.5M480.4,397.5L469.3,404.7M474.2,405.4L469.3,404.7L470.6,399.9M480.4,383.9L470.1,392.2M475,392.4L470.1,392.2L470.9,387.3M480.4,370.3L470.8,379.5M475.8,379.3L470.8,379.5L471.2,374.5M480.4,342.9L472.3,353.5M477.2,352.5L472.3,353.5L472,348.6M480.4,315.4L473.6,327M478.3,325.4L473.6,327L472.6,322.1M480.4,301.6L473.9,313.4M478.6,311.7L473.9,313.4L472.8,308.5M480.4,287.7L473.8,299.5M478.5,297.9L473.8,299.5L472.7,294.6M480.4,273.8L473.2,285.3M478,283.9L473.2,285.3L472.4,280.4M480.4,259.8L472.3,270.8M477.1,269.7L472.3,270.8L471.8,265.8M480.4,245.7L471,255.8M476,255.3L471,255.8L471.2,250.8M480.4,231.6L469.8,240.5M474.8,240.6L469.8,240.5L470.6,235.5M480.4,217.4L468.7,224.9M473.6,225.6L468.7,224.9L470.1,220.1M480.4,203.1L467.9,209.2M472.7,210.6L467.9,209.2L469.8,204.6M480.4,188.8L467.3,193.8M472,195.5L467.3,193.8L469.6,189.4M480.4,174.3L467.1,179M471.7,180.8L467.1,179L469.5,174.6M480.4,159.7L467.2,165M471.9,166.6L467.2,165L469.4,160.5M480.4,145.1L467.4,151.2M472.3,152.6L467.4,151.2L469.4,146.6M480.4,130.3L468.4,138.4M473.4,139L468.4,138.4L469.7,133.5M480.4,115.4L469.4,125M474.4,125L469.4,125L470.1,120M480.4,100.4L470,110.8M475,110.5L470,110.8L470.3,105.8M480.4,85.3L470.1,95.9M475.1,95.5L470.1,95.9L470.3,90.9M480.4,70L469.9,80.7M474.9,80.3L469.9,80.7L470.2,75.7M480.4,54.6L470.1,65.6M475,65.1L470.1,65.6L470.2,60.6M480.4,39L471,51M475.9,50.1L471,51L470.7,46M494,465.3L483,472.6M488,473.3L483,472.6L484.3,467.8M494,438.2L482.7,445.1M487.7,445.9L482.7,445.1L484.2,440.3M494,424.7L482.7,431.4M487.6,432.3L482.7,431.4L484.2,426.7M494,411.1L482.8,418.1M487.7,418.9L482.8,418.1L484.2,413.3M494,397.5L483.2,405.1M488.1,405.7L483.2,405.1L484.3,400.3M494,383.9L483.8,392.4M488.8,392.5L483.8,392.4L484.6,387.4M494,370.3L484.5,379.6M489.5,379.3L484.5,379.6L484.9,374.6M494,329.2L486.5,340.3M491.4,339L486.5,340.3L485.9,335.4M494,315.4L486.9,326.8M491.7,325.4L486.9,326.8L486.1,321.9M494,301.6L487,313.1M491.8,311.6L487,313.1L486.1,308.2M494,273.8L486,284.8M490.9,283.7L486,284.8L485.6,279.8M494,259.8L485,270M489.9,269.4L485,270L485,265M494,245.7L483.8,255M488.8,254.9L483.8,255L484.4,250M494,231.6L483,239.9M487.9,240.3L483,239.9L484,235M494,217.4L482.1,224.6M487.1,225.5L482.1,224.6L483.6,219.8M494,203.1L481.5,209.3M486.3,210.6L481.5,209.3L483.4,204.7M494,188.8L481.1,194.3M485.8,195.8L481.1,194.3L483.2,189.8M494,174.3L480.9,179.6M485.6,181.3L480.9,179.6L483.1,175.1M494,159.7L481,165.5M485.8,167L481,165.5L483.1,161M494,145.1L481.9,152.8M486.8,153.5L481.9,152.8L483.3,148M494,130.3L483.9,140.6M488.9,140.2L483.9,140.6L484.2,135.6M494,115.4L485.2,127M490.1,126L485.2,127L484.8,122M494,100.4L485.4,112.3M490.3,111.2L485.4,112.3L484.9,107.4M494,85.3L485.4,97.3M490.2,96.2L485.4,97.3L484.9,92.3M494,70L485.3,82.2M490.2,81L485.3,82.2L484.8,77.2M494,54.6L485.7,67.2M490.5,65.9L485.7,67.2L485,62.2M494,39L486.2,52.1M490.9,50.6L486.2,52.1L485.3,47.2M507.6,465.3L497,473.1M502,473.6L497,473.1L498,468.2M507.6,451.8L496.9,459.5M501.9,459.9L496.9,459.5L498,454.6M507.6,438.2L496.8,445.8M501.8,446.3L496.8,445.8L498,441M507.6,424.7L496.7,432.2M501.7,432.8L496.7,432.2L497.9,427.3M507.6,411.1L496.8,418.7M501.8,419.3L496.8,418.7L498,413.9M507.6,397.5L497.1,405.6M502.1,405.9L497.1,405.6L498.1,400.6M507.6,383.9L497.6,392.6M502.6,392.6L497.6,392.6L498.3,387.7M507.6,329.2L500.3,340.4M505.1,339L500.3,340.4L499.6,335.4M507.6,287.7L500,298.9M504.9,297.7L500,298.9L499.4,294M507.6,273.8L499.3,284.6M504.2,283.6L499.3,284.6L499,279.6M507.6,259.8L498.3,269.8M503.3,269.3L498.3,269.8L498.5,264.8M507.6,245.7L497.2,254.7M502.2,254.8L497.2,254.7L497.9,249.8M507.6,231.6L496.4,239.7M501.4,240.2L496.4,239.7L497.5,234.8M507.6,217.4L495.7,224.6M500.6,225.5L495.7,224.6L497.2,219.8M507.6,203.1L495.2,209.5M500,210.7L495.2,209.5L497,204.9M507.6,188.8L494.9,194.8M499.7,196.1L494.9,194.8L496.9,190.2M507.6,174.3L494.9,180.5M499.7,181.8L494.9,180.5L496.8,175.8M507.6,159.7L495.2,166.7M500.1,167.8L495.2,166.7L496.9,162M507.6,145.1L496.6,154.2M501.6,154.4L496.6,154.2L497.3,149.3M507.6,130.3L499,141.9M503.9,140.8L499,141.9L498.6,136.9M507.6,115.4L500.5,128.2M505.2,126.5L500.5,128.2L499.5,123.3M507.6,100.4L501.1,113.6M505.7,111.7L501.1,113.6L499.8,108.8M507.6,85.3L501.3,98.7M505.9,96.7L501.3,98.7L499.9,93.9M507.6,70L501.2,83.5M505.8,81.5L501.2,83.5L499.9,78.7M507.6,54.6L501.5,68.4M506,66.3L501.5,68.4L500,63.6M507.6,39L501.7,53.1M506.2,50.9L501.7,53.1L500.1,48.3M521.2,465.3L511,473.6M516,473.8L511,473.6L511.8,468.7M521.2,451.8L511,460.1M516,460.3L511,460.1L511.8,455.2M521.2,438.2L511,446.5M515.9,446.7L511,446.5L511.8,441.6M521.2,424.7L510.8,432.8M515.8,433.1L510.8,432.8L511.7,427.9M521.2,411.1L510.7,419.2M515.7,419.5L510.7,419.2L511.7,414.3M521.2,397.5L510.9,405.9M515.9,406L510.9,405.9L511.8,400.9M521.2,383.9L511.5,392.9M516.5,392.8L511.5,392.9L512,388M521.2,370.3L512.2,380M517.2,379.5L512.2,380L512.3,375M521.2,315.4L514.4,327M519.1,325.4L514.4,327L513.4,322.1M521.2,301.6L514.2,313.1M519,311.6L514.2,313.1L513.3,308.2M521.2,287.7L513.7,299M518.5,297.7L513.7,299L513,294M521.2,273.8L513,284.6M517.9,283.6L513,284.6L512.6,279.7M521.2,259.8L512.2,270.1M517.1,269.4L512.2,270.1L512.2,265.1M521.2,245.7L511.1,255M516.1,254.9L511.1,255L511.6,250M521.2,231.6L510.1,239.8M515.1,240.2L510.1,239.8L511.2,234.9M521.2,217.4L509.4,224.7M514.3,225.5L509.4,224.7L510.8,219.9M521.2,203.1L508.9,209.7M513.8,210.8L508.9,209.7L510.7,205M521.2,188.8L508.7,195.2M513.6,196.4L508.7,195.2L510.5,190.5M521.2,174.3L508.9,181.3M513.8,182.3L508.9,181.3L510.5,176.5M521.2,159.7L509.6,168M514.6,168.5L509.6,168L510.7,163.1M521.2,145.1L511.1,155.3M516.1,154.9L511.1,155.3L511.4,150.3M521.2,130.3L513.2,142.3M518,141L513.2,142.3L512.5,137.4M521.2,115.4L515,128.6M519.5,126.6L515,128.6L513.6,123.8M521.2,100.4L516.4,114.3M520.7,111.8L516.4,114.3L514.5,109.7M521.2,85.3L517.3,99.6M521.5,96.8L517.3,99.6L515.1,95.1M521.2,70L517.1,84.4M521.3,81.7L517.1,84.4L515,79.9M521.2,54.6L517.2,69.2M521.4,66.4L517.2,69.2L515,64.7M521.2,39L517.1,53.7M521.3,51L517.1,53.7L514.9,49.2M534.8,465.3L524.9,474.1M529.9,474L524.9,474.1L525.6,469.1M534.8,451.8L525,460.6M530,460.5L525,460.6L525.6,455.7M534.8,438.2L525,447.1M530,447L525,447.1L525.6,442.1M534.8,424.7L524.8,433.3M529.8,433.3L524.8,433.3L525.5,428.4M534.8,411.1L524.7,419.6M529.7,419.7L524.7,419.6L525.4,414.7M534.8,397.5L524.8,406.2M529.8,406.2L524.8,406.2L525.5,401.3M534.8,383.9L525.5,393.4M530.5,393L525.5,393.4L525.8,388.4M534.8,370.3L526.1,380.3M531.1,379.6L526.1,380.3L526.1,375.3M534.8,356.6L526.8,367.3M531.7,366.2L526.8,367.3L526.4,362.3M534.8,342.9L527.7,354.2M532.5,352.8L527.7,354.2L526.9,349.3M534.8,329.2L528.2,340.8M532.9,339.2L528.2,340.8L527.2,336M534.8,315.4L528.3,327.2M533,325.5L528.3,327.2L527.3,322.3M534.8,301.6L528.1,313.3M532.8,311.7L528.1,313.3L527.1,308.4M534.8,287.7L527.6,299.2M532.4,297.7L527.6,299.2L526.8,294.2M534.8,273.8L526.9,284.8M531.8,283.7L526.9,284.8L526.4,279.9M534.8,259.8L526,270.3M531,269.5L526,270.3L525.9,265.3M534.8,245.7L524.9,255.2M529.9,255L524.9,255.2L525.3,250.3M534.8,231.6L523.8,239.9M528.8,240.3L523.8,239.9L524.8,235M534.8,217.4L523,224.7M527.9,225.5L523,224.7L524.5,219.9M534.8,203.1L522.6,209.9M527.5,210.9L522.6,209.9L524.3,205.2M534.8,188.8L522.5,195.6M527.4,196.6L522.5,195.6L524.2,190.9M534.8,174.3L522.9,181.9M527.8,182.7L522.9,181.9L524.3,177.1M534.8,159.7L523.8,168.8M528.8,168.9L523.8,168.8L524.6,163.8M534.8,145.1L525.5,155.9M530.4,155.2L525.5,155.9L525.4,150.9M534.8,130.3L527.6,142.8M532.3,141.2L527.6,142.8L526.6,137.9M534.8,115.4L529.1,128.8M533.6,126.7L529.1,128.8L527.6,124.1M534.8,100.4L530.8,114.6M535,111.8L530.8,114.6L528.7,110.1M534.8,85.3L531.9,99.8M535.9,96.8L531.9,99.8L529.4,95.5M534.8,70L532.3,84.8M536.2,81.6L532.3,84.8L529.7,80.5M534.8,54.6L532.7,69.5M536.5,66.3L532.7,69.5L530,65.4M534.8,39L532.4,54.1M536.2,50.9L532.4,54.1L529.7,49.8M548.4,465.3L538.9,474.4M543.9,474.2L538.9,474.4L539.3,469.5M548.4,438.2L538.9,447.4M543.9,447.2L538.9,447.4L539.3,442.4M548.4,424.7L538.8,433.7M543.8,433.5L538.8,433.7L539.2,428.7M548.4,411.1L538.7,420.1M543.7,419.9L538.7,420.1L539.2,415.1M548.4,397.5L538.9,406.8M543.9,406.5L538.9,406.8L539.3,401.8M548.4,383.9L539.6,393.8M544.5,393.2L539.6,393.8L539.6,388.8M548.4,370.3L540.1,380.6M545,379.8L540.1,380.6L539.8,375.6M548.4,356.6L540.7,367.5M545.6,366.3L540.7,367.5L540.2,362.5M548.4,342.9L541.6,354.4M546.4,352.8L541.6,354.4L540.7,349.5M548.4,329.2L542.2,341.1M546.9,339.2L542.2,341.1L541,336.2M548.4,315.4L542.3,327.4M546.9,325.5L542.3,327.4L541,322.5M548.4,301.6L542,313.5M546.7,311.7L542,313.5L540.9,308.6M548.4,287.7L541.5,299.4M546.3,297.8L541.5,299.4L540.6,294.4M548.4,273.8L540.8,285.1M545.6,283.8L540.8,285.1L540.2,280.1M548.4,259.8L539.9,270.5M544.8,269.6L539.9,270.5L539.7,265.5M548.4,245.7L538.7,255.5M543.7,255.1L538.7,255.5L539,250.5M548.4,231.6L537.4,239.9M542.4,240.3L537.4,239.9L538.4,235M548.4,217.4L536.5,224.6M541.5,225.5L536.5,224.6L538,219.9M548.4,203.1L536.2,209.9M541.1,210.9L536.2,209.9L537.9,205.2M548.4,188.8L536.3,195.8M541.2,196.8L536.3,195.8L537.9,191.1M548.4,174.3L536.9,182.5M541.9,183L536.9,182.5L538,177.6M548.4,159.7L537.9,169.4M542.9,169.3L537.9,169.4L538.5,164.4M548.4,145.1L539.6,156.4M544.5,155.5L539.6,156.4L539.3,151.4M548.4,130.3L541.8,143.2M546.5,141.3L541.8,143.2L540.6,138.3M548.4,115.4L543.5,129.1M547.9,126.7L543.5,129.1L541.7,124.5M548.4,100.4L545.1,114.7M549.2,111.8L545.1,114.7L542.8,110.3M548.4,85.3L546.2,99.9M550,96.7L546.2,99.9L543.5,95.7M548.4,70L546.8,84.9M550.5,81.5L546.8,84.9L543.9,80.8M548.4,54.6L547.2,69.6M550.8,66.2L547.2,69.6L544.2,65.6M548.4,39L546.9,54.2M550.5,50.8L546.9,54.2L544,50.1M562,465.3L552.8,474.7M557.8,474.4L552.8,474.7L553,469.7M562,451.8L552.9,461.3M557.9,460.9L552.9,461.3L553.1,456.3M562,438.2L552.9,447.8M557.9,447.3L552.9,447.8L553.1,442.8M562,424.7L552.7,434.1M557.7,433.7L552.7,434.1L553,429.1M562,411.1L552.6,420.4M557.6,420.1L552.6,420.4L553,415.4M562,397.5L552.7,406.9M557.7,406.6L552.7,406.9L553,402M562,383.9L553.3,393.9M558.3,393.2L553.3,393.9L553.3,388.9M562,370.3L553.9,380.8M558.8,379.8L553.9,380.8L553.6,375.8M562,356.6L554.5,367.6M559.4,366.4L554.5,367.6L553.9,362.7M562,342.9L555.3,354.4M560,352.9L555.3,354.4L554.3,349.5M562,329.2L555.8,341.1M560.5,339.2L555.8,341.1L554.6,336.2M562,315.4L556,327.4M560.6,325.5L556,327.4L554.7,322.6M562,301.6L555.9,313.6M560.5,311.7L555.9,313.6L554.6,308.7M562,287.7L555.3,299.5M560,297.8L555.3,299.5L554.3,294.6M562,273.8L554.5,285.1M559.4,283.8L554.5,285.1L553.8,280.2M562,259.8L553.6,270.5M558.5,269.6L553.6,270.5L553.3,265.5M562,245.7L552.1,255.2M557.1,255L552.1,255.2L552.5,250.2M562,231.6L550.9,239.8M555.9,240.2L550.9,239.8L552,234.9M562,217.4L550.2,224.6M555.1,225.5L550.2,224.6L551.6,219.9M562,203.1L549.7,209.8M554.6,210.9L549.7,209.8L551.5,205.1M562,188.8L549.9,195.9M554.8,196.8L549.9,195.9L551.5,191.1M562,174.3L551,183.2M556,183.4L551,183.2L551.9,178.3M562,159.7L552,169.9M557,169.5L552,169.9L552.3,164.9M562,145.1L553.6,156.7M558.5,155.6L553.6,156.7L553.1,151.7M562,130.3L556,143.4M560.6,141.4L556,143.4L554.6,138.7M562,115.4L558.1,129.5M562.3,126.7L558.1,129.5L555.9,124.9M562,100.4L559.4,114.9M563.3,111.8L559.4,114.9L556.8,110.6M562,85.3L560.4,100M564.1,96.6L560.4,100L557.5,95.9M562,70L560.8,84.9M564.4,81.4L560.8,84.9L557.8,80.9M562,54.6L561,69.7M564.5,66.1L561,69.7L558,65.7M562,39L560.8,54.2M564.4,50.7L560.8,54.2L557.8,50.2M575.6,465.3L566.6,475M571.6,474.5L566.6,475L566.8,470M575.6,451.8L566.7,461.5M571.7,461L566.7,461.5L566.8,456.5M575.6,438.2L566.8,448.1M571.8,447.4L566.8,448.1L566.8,443.1M575.6,424.7L566.7,434.4M571.6,433.9L566.7,434.4L566.8,429.4M575.6,411.1L566.6,420.8M571.6,420.3L566.6,420.8L566.7,415.8M575.6,397.5L566.7,407.3M571.7,406.7L566.7,407.3L566.8,402.3M575.6,383.9L567.1,394.1M572.1,393.3L567.1,394.1L567,389.1M575.6,370.3L567.7,380.9M572.6,379.9L567.7,380.9L567.3,376M575.6,356.6L568.3,367.7M573.1,366.4L568.3,367.7L567.6,362.8M575.6,342.9L568.8,354.4M573.6,352.9L568.8,354.4L567.9,349.5M575.6,329.2L569.3,341M574,339.2L569.3,341L568.2,336.1M575.6,315.4L569.5,327.4M574.1,325.5L569.5,327.4L568.2,322.5M575.6,301.6L569.4,313.6M574.1,311.7L569.4,313.6L568.2,308.7M575.6,287.7L568.9,299.5M573.6,297.8L568.9,299.5L567.9,294.6M575.6,273.8L568,285M572.8,283.8L568,285L567.3,280.1M575.6,259.8L566.8,270.3M571.8,269.5L566.8,270.3L566.7,265.3M575.6,245.7L565.4,254.9M570.4,254.9L565.4,254.9L566,250M575.6,231.6L564.4,239.7M569.4,240.2L564.4,239.7L565.5,234.8M575.6,217.4L563.9,224.9M568.9,225.7L563.9,224.9L565.3,220.1M575.6,203.1L563.6,210.2M568.5,211.1L563.6,210.2L565.1,205.5M575.6,188.8L563.8,196.4M568.7,197.1L563.8,196.4L565.2,191.5M575.6,174.3L565.2,183.8M570.2,183.7L565.2,183.8L565.7,178.9M575.6,159.7L566.1,170.4M571.1,169.7L566.1,170.4L566.2,165.4M575.6,145.1L567.6,157M572.4,155.7L567.6,157L567,152M575.6,130.3L570,143.6M574.5,141.4L570,143.6L568.4,138.9M575.6,115.4L572.1,129.6M576.2,126.7L572.1,129.6L569.8,125.1M575.6,100.4L573.3,114.9M577.1,111.7L573.3,114.9L570.6,110.7M575.6,85.3L574.1,100M577.8,96.6L574.1,100L571.2,96M575.6,70L574.5,84.9M578.1,81.4L574.5,84.9L571.5,80.9M575.6,54.6L574.6,69.7M578.1,66.1L574.6,69.7L571.6,65.7M575.6,39L574.5,54.2M578,50.7L574.5,54.2L571.5,50.2" fill="none" stroke="#000090" stroke-width="1" shape-rendering="crispEdges"/>
<path d="M466.7,38 461.5,46 461,54 463.5,62 456,65 451.4,72 448,71 445,81.4 440,87.5 436,89 436,98 431,108 425,113 421.7,119 413.5,123 410.3,128 403.9,133 399,138.5 393.5,141 391,145 383,147.3M367,150 362,154 355.7,154 352.5,155.5 346,159.5 340,161.3 333.5,162 327,165 320.7,167M284.5,162 279.7,166 274,168 269.3,171 266,175 259,175.5" fill="none" stroke="#000" stroke-width="3.4" stroke-linejoin="round" stroke-linecap="round"/><path d="M448.5,210.9 451.7,208.5 457.3,209.3 462,210.9 466,211.7 469.4,210 471,214 470.2,219.7 471,224.5 473.4,228.5 472.6,234.2 470.2,239 467.5,243.3 463.5,246.7 460.1,250.7 458.8,254.7 460.1,258.7 462.1,262.8 463.5,266.8 466.1,270.1 468.8,272.1 470.2,270.1 472.8,268.1 476.9,266.8 480.2,267.4 482.9,270.1 484.9,272.1 488.9,273.5 492.2,274.1 495.6,273.5 498.3,272.8 499.6,274.8 498.9,278.8 496.9,278.8 495.6,275.5 492.2,276.1 488.2,276.8 490.2,280.2 492.9,282.8 495.6,286.2 496.3,290.2 494.3,291.5 492.9,288.9 490.2,286.9 487.6,284.2 484.9,281.5 482.9,278.2 480.9,274.1 478.9,271.5 476.2,270.1 472.8,271.5 471.5,274.1 474.2,277.5 476.2,281.5 475.5,284.2 472.8,281.5 471.5,278.8 468.8,277.5 466.1,275.5 462.8,273.5 460.8,271.5 458.8,274.1 456.1,273.5 453.4,275.5 450.1,273.5 450.1,270.1 447.4,267.4 450.1,266.1 452.8,264.8 451.4,262.1 448.1,262.8 446.1,264.1 442.7,262.8 440.7,259.4 441.4,253.4 440,248 436.7,244 439.6,242.2 444.5,241.4 445.3,236.6 446,230.2 445.3,223.7 446.9,217.3ZM446.7,281.5 451.4,280.2 456.8,281.5 460.1,284.8 461.5,289.5 460.1,293.5 457.4,297.6 454.8,298.2 452.8,293.5 450.1,289.5 448.1,285.5ZM499.1,295.8 505.5,293.7 511.1,295 514.3,299 513.5,304.6 515.9,309.4 515.1,313.5 511.9,314.3 508.7,311.8 506.8,306.5 504.2,301.7 500.4,299ZM466.9,303.8 471,305.4 476.6,307.8 481.4,309.4 482.2,312.7 478.2,315.9 473.4,319.1 468.6,320.7 466.9,316.7 467.8,311ZM484.6,296.6 490.2,295.8 493.5,299.8 494.3,303 491,302.2 487.8,299 484.6,299ZM503.1,312.3 507.9,311.4 510.3,314.6 511.1,319.1 512.7,323.9 512.2,329.5 509.5,330 508.7,325.5 506.3,322.3 504.2,317.5ZM481.4,316.7 485.4,315.9 486.2,320.7 485.4,324.8 484.6,329.6 483,336.1 483.8,340.1 480.6,340.9 476.6,337.7 473.4,334.5 473.4,330.4 476.6,328 479,324 479.8,324.7 480.6,319.1ZM491.8,317.5 494.3,318.3 492.7,323.9 490.2,329.5 488.2,334.3 486.2,335.1 484.9,333.5 487,327.1 490.2,322.3ZM493.5,329.7 499.1,327.3 501.5,330.5 498.3,333.7 493.5,333.7ZM515,332.9 520,336 523,340.9 524,347.3 526.4,352 528,358.6 528.8,364.2 526.4,368.2 524.8,373 523,376.2 522.4,371.4 520,366.6 517.6,369.8 515,374.6 516.7,379.4 516.2,384.3 514,388 510.3,384.3 507,383.5 502.3,381.8 497.5,379.4 495,374.6 495.9,368.2 496.7,363.4 493.5,360.2 490.2,357.8 488.6,361 485.4,361.8 482.2,360.2 478.2,358.6 473.4,361 471,365 469.4,369.8 466,369.8 467.8,365 469.4,360.2 472.6,357 477.4,354.5 480.6,351.3 485.4,349 490.2,348 491.8,352 494.3,354.5 497.5,351.3 500.7,349 504.7,347.3 506.3,344 510.3,344 513.5,341.7 514.3,336Z" fill="none" stroke="#000" stroke-width="2.2" stroke-linejoin="round"/>
<path d="M278,409 280.5,408.5 282.5,411 282,414.5 279.5,416 277.3,414 277,411ZM187.2,437.2 191.3,436.8 191.9,440.4 188.9,442.4 186.9,440.4ZM197.9,444.8 202.1,445.2 202.6,451.1 199.7,451.7 197.9,449.3ZM202.6,451.1 206.8,450.5 211,452.9 210.4,455.3 206.8,455.6 203.2,454.1ZM153,36 466.7,36 466.7,39.6 461,46 460.2,54 463.5,62 456,64.5 451.4,71.8 448,70 445,81.4 440,87 435.5,88.5 435.5,98 431,108 425,112.5 421.7,118.5 413.5,122.5 410.3,127.3 403.9,132.1 399,137.8 393.5,140.2 391,144.2 383,146.6 372.6,148.2 367,149 362,153 355.7,153 354,146.6 351,145 350,149.8 352.5,154.6 346,158.6 340,160.5 333.5,161.3 327,164.5 320.7,166 314.3,168.6 309.4,170.2 307.8,175 310,179.7 312,185 308.9,186.7 305.7,185 303.6,179.7 301.4,174.4 303.8,168.6 299.8,164.5 296.6,166 291,163.7 284.5,161.3 279.7,165.3 274,167 269.3,170 266,174.2 258.8,174.2 258.8,177.4 256.4,183 254.4,184.6 248,192.6 244.5,200 246.6,206.4 251.4,212 256.2,217.7 259.4,224 264.3,230.5 269,236 275.5,241 280.3,245 285,250.6 288.4,256.2 291.6,262.7 292.4,269 294.8,277 296.4,283.5 296.4,286.4 294,292.9 293.2,300.9 291.6,306.5 286.7,312 280.3,317 272.3,321.8 264.3,323.4 260.2,325.8 257.8,331.4 254.6,335.4 248.2,339.4 241.8,343.5 237,346.7 234.5,345.9 234.5,339.4 235.3,333 236.1,328.2 232.1,326.6 230.5,321.8 224.1,321.8 222.5,325.8 219.3,320.2 216,314.5 211.8,314.3 210.2,309.4 207.8,304.6 205.4,299.8 201.4,298.2 198.2,294.2 193.4,291.8 188.6,292.6 182.1,292.6 180.5,287 182.1,281.3 177.3,279.7 170.9,280.5 167.7,283.7 169,288.6 168.5,298.2 165.3,306.2 162,314.3 158.8,322.3 157.2,330.3 158,338 158.8,338 165.3,339.6 167.7,346 170.9,350.9 173.3,358.1 174.9,364.5 179.7,369.4 184.5,372.6 189.4,372.6 193.4,378.2 198.2,382.2 203,386.2 208.6,391.8 212.7,396.7 214.3,402.3 215,408.7 215,414 215.9,422 219,430 222.3,436.6 224.7,441.4 224.7,445.4 220.7,446.2 215.9,447 211,443.8 204.6,439 198.2,434.2 191.8,429.4 187.8,424.5 186.1,418.9 181.3,412.5 178.1,406 177.3,399.6 174.9,394.8 172.5,391.8 173.3,385.4 171.7,379 170,374.2 166,369.4 162,364.5 159.6,359.7 155.6,356.5 153,356ZM314.3,187.8 317.5,191.8 315,197.5 311.8,203.1 307,208.7 301.4,213.5 296.6,213.5 291.8,211.1 287.8,208.7 286.1,203.1 287,197.5 291,193.5 295.8,190.2 303,189.4 309.4,187ZM153,416 155,416.5 159.6,418 164.5,423 168.5,428.5 174,432.6 179.7,435.8 182,438.2 187,437.4 190,439.8 193.4,443 198.2,445.4 201.4,448.6 203,453.5 211,454.3 215.9,457.5 219,461.5 222.3,464.7 222,467 163,467 158,460.7 155.6,454 153,452ZM294,467 290,460.3 290.9,452.3 292.5,444.3 296.5,439.4 299.7,440.2 302,441.8 308.6,441.8 313.4,444.3 318.2,445 319.8,441 320.6,435.4 323,428.2 329.4,426.6 337.5,424.2 344.7,421.8 348.7,417.8 353.5,412 357.5,407.3 362.4,403.3 366.4,400.9 370.4,397.7 374.4,397.7 379.2,394.5 382.4,389.6 386,382 394,375.5 398,369 402,370.7 404.5,375.5 408.6,378.7 407.8,383.5 411,384.8 416.6,388 423,390.4 429.4,392 430.2,395.3 424.6,396 418.2,397.7 415.8,400.9 419.8,404 422.2,405.7 416.6,406.5 411.8,408 409.4,412 405.3,414.5 402,417 406,421.8 409.4,427.4 412.6,433 411,437.8 414.2,441.8 418.2,445.9 424.6,450.7 425.4,452.3 418.2,453 412.6,452.3 409.4,457 407,467ZM398.9,356.2 402.1,349.8 406.1,345.8 411,342.1 415.8,337.8 419.8,333.4 423.8,328.9 427,324.9 430.7,320.6 433.5,317.3 435.9,316.1 437.5,319 435.4,322.8 432.2,326.8 428.2,330.8 424.1,335.7 419.5,339.8 415,343.4 410.2,347.1 405.7,350.8 402.9,354.6 401.3,357.8ZM448.5,210.9 451.7,208.5 457.3,209.3 462,210.9 466,211.7 469.4,210 471,214 470.2,219.7 471,224.5 473.4,228.5 472.6,234.2 470.2,239 467.5,243.3 463.5,246.7 460.1,250.7 458.8,254.7 460.1,258.7 462.1,262.8 463.5,266.8 466.1,270.1 468.8,272.1 470.2,270.1 472.8,268.1 476.9,266.8 480.2,267.4 482.9,270.1 484.9,272.1 488.9,273.5 492.2,274.1 495.6,273.5 498.3,272.8 499.6,274.8 498.9,278.8 496.9,278.8 495.6,275.5 492.2,276.1 488.2,276.8 490.2,280.2 492.9,282.8 495.6,286.2 496.3,290.2 494.3,291.5 492.9,288.9 490.2,286.9 487.6,284.2 484.9,281.5 482.9,278.2 480.9,274.1 478.9,271.5 476.2,270.1 472.8,271.5 471.5,274.1 474.2,277.5 476.2,281.5 475.5,284.2 472.8,281.5 471.5,278.8 468.8,277.5 466.1,275.5 462.8,273.5 460.8,271.5 458.8,274.1 456.1,273.5 453.4,275.5 450.1,273.5 450.1,270.1 447.4,267.4 450.1,266.1 452.8,264.8 451.4,262.1 448.1,262.8 446.1,264.1 442.7,262.8 440.7,259.4 441.4,253.4 440,248 436.7,244 439.6,242.2 444.5,241.4 445.3,236.6 446,230.2 445.3,223.7 446.9,217.3ZM446.7,281.5 451.4,280.2 456.8,281.5 460.1,284.8 461.5,289.5 460.1,293.5 457.4,297.6 454.8,298.2 452.8,293.5 450.1,289.5 448.1,285.5ZM499.1,295.8 505.5,293.7 511.1,295 514.3,299 513.5,304.6 515.9,309.4 515.1,313.5 511.9,314.3 508.7,311.8 506.8,306.5 504.2,301.7 500.4,299ZM466.9,303.8 471,305.4 476.6,307.8 481.4,309.4 482.2,312.7 478.2,315.9 473.4,319.1 468.6,320.7 466.9,316.7 467.8,311ZM484.6,296.6 490.2,295.8 493.5,299.8 494.3,303 491,302.2 487.8,299 484.6,299ZM503.1,312.3 507.9,311.4 510.3,314.6 511.1,319.1 512.7,323.9 512.2,329.5 509.5,330 508.7,325.5 506.3,322.3 504.2,317.5ZM481.4,316.7 485.4,315.9 486.2,320.7 485.4,324.8 484.6,329.6 483,336.1 483.8,340.1 480.6,340.9 476.6,337.7 473.4,334.5 473.4,330.4 476.6,328 479,324 479.8,324.7 480.6,319.1ZM491.8,317.5 494.3,318.3 492.7,323.9 490.2,329.5 488.2,334.3 486.2,335.1 484.9,333.5 487,327.1 490.2,322.3ZM493.5,329.7 499.1,327.3 501.5,330.5 498.3,333.7 493.5,333.7ZM515,332.9 520,336 523,340.9 524,347.3 526.4,352 528,358.6 528.8,364.2 526.4,368.2 524.8,373 523,376.2 522.4,371.4 520,366.6 517.6,369.8 515,374.6 516.7,379.4 516.2,384.3 514,388 510.3,384.3 507,383.5 502.3,381.8 497.5,379.4 495,374.6 495.9,368.2 496.7,363.4 493.5,360.2 490.2,357.8 488.6,361 485.4,361.8 482.2,360.2 478.2,358.6 473.4,361 471,365 469.4,369.8 466,369.8 467.8,365 469.4,360.2 472.6,357 477.4,354.5 480.6,351.3 485.4,349 490.2,348 491.8,352 494.3,354.5 497.5,351.3 500.7,349 504.7,347.3 506.3,344 510.3,344 513.5,341.7 514.3,336ZM461.3,110.4 464.5,112.9 466,116.9 464.5,122.5 463.7,128.9 461.3,135.3 459,141.8 455.7,148.2 453.3,153.8 451.7,159.4 450,160.2 448.5,154.6 445.3,149.8 442.9,143.4 442.9,136 445.3,129.7 448.5,124 451.7,118.5 455.7,113.7ZM439,467 440.7,457 445.5,454 450.3,450.7 453.5,447.5 457.5,448.3 463,450.7 469.6,451.5 476,453 482.4,454.5 486,454 492.5,452.3 499,448.3 503.7,444.3 507.8,441.8 510,444.3 507,449 503,454 499,458 492.5,460.3 484.5,460.3 478,458.5 470,458.7 466.4,458.7 460,458.7 453.5,459.5 447,458.7 442.3,462 440.7,467ZM543.8,439.6 546.4,437.5 548.6,440.7 549.1,445 550.2,447.7 553.9,445 557.7,444.5 558.2,447.1 556.1,450.9 552.9,453 551.3,455.2 554.5,458.4 557.7,460.5 556.1,461.6 551.8,460 548.6,458.1 547.5,461.1 547,464.3 544.3,464.3 543.2,459.5 542.7,455.7 541.1,451.4 542.1,446.1ZM552,433 555,429.8 557.5,431.4 556.7,435.4 553.5,437 552,435.4Z" fill="#c6c3c6" stroke="#000" stroke-width="1.3" stroke-linejoin="round"/>
<g fill="#000"><ellipse cx="216" cy="447.5" rx="3" ry="1.5" transform="rotate(0 216 447.5)"/><ellipse cx="221" cy="449" rx="3.5" ry="2" transform="rotate(0 221 449)"/><ellipse cx="226" cy="450" rx="3" ry="2.5" transform="rotate(0 226 450)"/><ellipse cx="222" cy="453" rx="3" ry="2" transform="rotate(0 222 453)"/><ellipse cx="228" cy="454" rx="3.5" ry="2.5" transform="rotate(0 228 454)"/><ellipse cx="225" cy="458" rx="3" ry="2.5" transform="rotate(0 225 458)"/><ellipse cx="231" cy="458" rx="2.5" ry="2" transform="rotate(0 231 458)"/><ellipse cx="229" cy="462" rx="4" ry="2.5" transform="rotate(0 229 462)"/><ellipse cx="234" cy="463" rx="2" ry="2" transform="rotate(0 234 463)"/><ellipse cx="218" cy="456" rx="3" ry="1.2" transform="rotate(-30 218 456)"/><ellipse cx="213" cy="459" rx="3" ry="1" transform="rotate(-30 213 459)"/><ellipse cx="233" cy="452" rx="1.5" ry="1.5" transform="rotate(0 233 452)"/><ellipse cx="225.5" cy="427.5" rx="1.5" ry="1.5" transform="rotate(0 225.5 427.5)"/><ellipse cx="230" cy="432" rx="1" ry="1" transform="rotate(0 230 432)"/><ellipse cx="223" cy="429" rx="0.8" ry="0.8" transform="rotate(0 223 429)"/><ellipse cx="247" cy="424.5" rx="2.5" ry="2" transform="rotate(0 247 424.5)"/><ellipse cx="253.5" cy="421" rx="2.5" ry="2.5" transform="rotate(0 253.5 421)"/><ellipse cx="250" cy="423" rx="2" ry="1" transform="rotate(0 250 423)"/><ellipse cx="252.5" cy="428" rx="1" ry="1" transform="rotate(0 252.5 428)"/><ellipse cx="289" cy="426" rx="1.5" ry="2" transform="rotate(0 289 426)"/><ellipse cx="291" cy="431" rx="1.5" ry="1" transform="rotate(0 291 431)"/><ellipse cx="434.5" cy="313" rx="2.3" ry="3.8" transform="rotate(30 434.5 313)"/><ellipse cx="441.5" cy="301.5" rx="2.5" ry="2" transform="rotate(0 441.5 301.5)"/><ellipse cx="400" cy="367" rx="1.5" ry="1" transform="rotate(0 400 367)"/><ellipse cx="404" cy="369" rx="1.2" ry="1" transform="rotate(0 404 369)"/><ellipse cx="467" cy="376" rx="2.5" ry="2" transform="rotate(0 467 376)"/><ellipse cx="462" cy="380" rx="2" ry="1.5" transform="rotate(0 462 380)"/><ellipse cx="455" cy="384" rx="3" ry="2" transform="rotate(-30 455 384)"/><ellipse cx="449" cy="388" rx="2.5" ry="1.5" transform="rotate(-30 449 388)"/><ellipse cx="443" cy="394" rx="3" ry="2" transform="rotate(-30 443 394)"/><ellipse cx="437" cy="398" rx="2.5" ry="2" transform="rotate(0 437 398)"/><ellipse cx="497" cy="123.5" rx="6" ry="1.8" transform="rotate(-15 497 123.5)"/><ellipse cx="504" cy="120" rx="2" ry="2.5" transform="rotate(0 504 120)"/><ellipse cx="512" cy="117.5" rx="2.5" ry="1.5" transform="rotate(20 512 117.5)"/><ellipse cx="492" cy="128" rx="1" ry="1" transform="rotate(0 492 128)"/><ellipse cx="548.5" cy="91.5" rx="6" ry="2" transform="rotate(-42 548.5 91.5)"/><ellipse cx="568" cy="65" rx="5" ry="2.2" transform="rotate(-35 568 65)"/><ellipse cx="561" cy="73" rx="1.3" ry="1.5" transform="rotate(0 561 73)"/><ellipse cx="557" cy="78" rx="1.5" ry="0.8" transform="rotate(0 557 78)"/><ellipse cx="572" cy="45" rx="1.5" ry="2.5" transform="rotate(0 572 45)"/><ellipse cx="543" cy="97" rx="2" ry="1" transform="rotate(0 543 97)"/><ellipse cx="538" cy="96" rx="1" ry="0.7" transform="rotate(0 538 96)"/><ellipse cx="466" cy="177" rx="1.3" ry="3" transform="rotate(0 466 177)"/><ellipse cx="466.5" cy="183" rx="1.5" ry="1.2" transform="rotate(0 466.5 183)"/><ellipse cx="460" cy="197" rx="1.5" ry="1.5" transform="rotate(0 460 197)"/><ellipse cx="466" cy="203" rx="2" ry="1.5" transform="rotate(0 466 203)"/><ellipse cx="458" cy="204" rx="1.5" ry="1" transform="rotate(0 458 204)"/><ellipse cx="532" cy="405" rx="1.8" ry="2.5" transform="rotate(0 532 405)"/><ellipse cx="531" cy="411" rx="1.5" ry="2" transform="rotate(0 531 411)"/><ellipse cx="536" cy="401" rx="1" ry="1" transform="rotate(0 536 401)"/><ellipse cx="514.5" cy="417" rx="2" ry="3" transform="rotate(0 514.5 417)"/><ellipse cx="513" cy="430" rx="1.5" ry="2" transform="rotate(0 513 430)"/><ellipse cx="512.5" cy="435" rx="1" ry="1.5" transform="rotate(0 512.5 435)"/><ellipse cx="434" cy="137" rx="1.8" ry="2.2" transform="rotate(0 434 137)"/><ellipse cx="352" cy="147" rx="2" ry="3.7" transform="rotate(0 352 147)"/><ellipse cx="360.5" cy="154" rx="4.5" ry="2.8" transform="rotate(0 360.5 154)"/><ellipse cx="473" cy="331" rx="1.5" ry="1.5" transform="rotate(0 473 331)"/><ellipse cx="489" cy="340" rx="1.5" ry="1.5" transform="rotate(0 489 340)"/><ellipse cx="519" cy="331" rx="2.5" ry="4" transform="rotate(0 519 331)"/><ellipse cx="522" cy="326" rx="1.5" ry="2" transform="rotate(0 522 326)"/><ellipse cx="465" cy="48" rx="1.8" ry="3" transform="rotate(0 465 48)"/><ellipse cx="467.5" cy="56" rx="1.8" ry="2.5" transform="rotate(0 467.5 56)"/><ellipse cx="465" cy="62.5" rx="1.5" ry="2" transform="rotate(0 465 62.5)"/><ellipse cx="458" cy="66.5" rx="2" ry="1.5" transform="rotate(0 458 66.5)"/><ellipse cx="453.5" cy="72.5" rx="1.5" ry="1.5" transform="rotate(0 453.5 72.5)"/><ellipse cx="447" cy="80" rx="1.5" ry="1.8" transform="rotate(0 447 80)"/><ellipse cx="438" cy="90" rx="2.5" ry="2" transform="rotate(0 438 90)"/><ellipse cx="437.5" cy="97" rx="1.5" ry="2.2" transform="rotate(0 437.5 97)"/><ellipse cx="432.5" cy="108.5" rx="1.5" ry="1.5" transform="rotate(0 432.5 108.5)"/><ellipse cx="428" cy="113" rx="1.5" ry="1.2" transform="rotate(0 428 113)"/><ellipse cx="416" cy="123" rx="2" ry="1.3" transform="rotate(0 416 123)"/><ellipse cx="406" cy="132" rx="1.8" ry="1.3" transform="rotate(0 406 132)"/><ellipse cx="396" cy="141" rx="1.8" ry="1.2" transform="rotate(0 396 141)"/><ellipse cx="388" cy="146.5" rx="1.5" ry="1.2" transform="rotate(0 388 146.5)"/><ellipse cx="343" cy="161.5" rx="1.5" ry="1.2" transform="rotate(0 343 161.5)"/><ellipse cx="337" cy="163" rx="1.5" ry="1" transform="rotate(0 337 163)"/><ellipse cx="329" cy="165.5" rx="1.5" ry="1" transform="rotate(0 329 165.5)"/><ellipse cx="425.7" cy="45.3" rx="1.5" ry="1" transform="rotate(0 425.7 45.3)"/><ellipse cx="265" cy="174.3" rx="7" ry="2.3" transform="rotate(-12 265 174.3)"/></g>
<path d="M155.6,142 162,142.9 161.2,149.3 158,156.5 166.9,159.7 170.9,166.1 176.5,166.9 183.7,162.9 185.3,170.2 192.6,171 192.6,162.1 190.2,155.7 192.6,152.5 198.2,153.3 203,148.5 209.4,151.7 215.1,146.9 222.3,150.9 233.5,146.1 240.8,139.6 248,144.5 256,146.1 260.8,147.7 259.2,154.1 262.4,159.7 269.7,164.5M158,156.5 154.8,158.9M183.7,162.9 176.5,173.4 170.1,181.4 162,183.8 154.8,187.8M170.1,181.4 174.1,185.4 175.7,194.3 185.3,194.3 186.1,202.3 186.1,200 184.5,206.4 183.7,214.5 181.3,221.7 183.7,224.1 189.4,220.9 197.4,215.3 204.6,218.5 211,214.5 215.1,211.2 222.3,212.9 227.1,219.3 233.5,225.7 233.5,235.3 237.6,242.6 244.8,248.2 244,256.2 242.4,264.3 240,269.1 246.4,272.3 250.4,273.1 252.8,267.5 259.2,265.9 265.7,267.5 269.7,265.9 270.7,264.3M198.2,153.3 204.6,162.1 208.6,163.7 208.6,171.8 213.5,176.6 220.7,177.4 225.5,175 230.3,179.8 231.9,184.6 236.7,187 233.5,192.7 225.5,193.5 221.5,199.1 230.3,203.9 236.7,207.9 237.8,207.2 239.4,213.7 245,220.1 249.8,224.1 254.6,228.1 257.8,234.5 261.8,239.4 264.3,237.8 269.9,245 266.7,248.2 270.7,253.8 273.1,256.2 270.7,264.3 269.1,270.7 271.5,277.1 270.7,283.5 271.5,290 271.5,289.6 269.1,296.1 261,299.3 255.4,304.1 249,305.7 248.2,310.5 253,314.5 249.8,317.8 243.4,316.1 239.4,320.2 238.6,308.9 234.5,306.5 234.5,301.7M240,269.1 233.5,267.5 223.9,267.5 214.3,268.3 207.8,270.7 203.8,277.1 200.6,280.3 201.4,290 200.6,279.7 201.4,286.9 203.8,293.4 201.4,298.2M248,259.4 248,264.3M248,266.7 248,272.3 250.4,277.1M249.6,280.3 249.6,283.5 250.4,290M249.8,280 250.6,286.4 250.1,294.5M233.7,300.9 238.6,301.7 243.4,300.1 243.7,298.5M155.6,273.3 159.6,274.1 156.4,278.9 157.2,286.9 161.2,293.4 162.9,301.4 164.5,305.4 161.2,311 158.8,315.9 157.2,322.3M171.7,375.8 176.5,378.2 181.3,379 183.7,381.4 183.7,387 188.6,385.4 193.4,386.2 195.8,383 198.2,382.2M305.4,137.2 307,135.6 314.3,138 319.1,137.2 323.9,137.2M296.5,439.4 302.1,445.9 308.6,451.5 315,452.3 321.4,449.9 331,450.7 334.3,445.9 342.3,444.3 350.3,447.5 356.7,446.7 366.4,445.1 370.4,434.6 375.2,429.8 376,425 380.8,420.2 380.8,408.9 385.7,406.5 390,406.5 384.5,406.5 394.1,406.5 403.7,407.3 409.4,410.5M370,433.8 374.8,431.4 374,426.6 378,423.4 380.4,416.1 381.2,409.7 384.5,406.5M362.4,403.3 366.4,410.5 370.4,406.5 372.8,397.7M373.6,397.7 374.4,404.1 376.8,405.7 376,396.9" fill="none" stroke="#000" stroke-width="1" stroke-linejoin="round" shape-rendering="crispEdges"/>
</g>
<path d="M168.5,38v5M168.5,465v-5M195.5,38v5M195.5,465v-5M222.5,38v5M222.5,465v-5M250.5,38v5M250.5,465v-5M277.5,38v5M277.5,465v-5M304.5,38v5M304.5,465v-5M331.5,38v5M331.5,465v-5M358.5,38v5M358.5,465v-5M386.5,38v5M386.5,465v-5M413.5,38v5M413.5,465v-5M440.5,38v5M440.5,465v-5M467.5,38v5M467.5,465v-5M494.5,38v5M494.5,465v-5M522.5,38v5M522.5,465v-5M549.5,38v5M549.5,465v-5M155,438.5h5M575,438.5h-5M155,411.5h5M575,411.5h-5M155,383.5h5M575,383.5h-5M155,356.5h5M575,356.5h-5M155,329.5h5M575,329.5h-5M155,301.5h5M575,301.5h-5M155,273.5h5M575,273.5h-5M155,245.5h5M575,245.5h-5M155,217.5h5M575,217.5h-5M155,188.5h5M575,188.5h-5M155,159.5h5M575,159.5h-5M155,130.5h5M575,130.5h-5M155,100.5h5M575,100.5h-5M155,70.5h5M575,70.5h-5" stroke="#000" stroke-width="1" fill="none"/>
<rect x="154" y="37" width="422" height="429" fill="none" stroke="#000" stroke-width="2"/>
<linearGradient id="g" x1="0" x2="1" y1="0" y2="0"><stop offset="0" stop-color="#0000ff"/><stop offset="0.25" stop-color="#00ffff"/><stop offset="0.5" stop-color="#00ff00"/><stop offset="0.75" stop-color="#ffff00"/><stop offset="1" stop-color="#ff0000"/></linearGradient><rect x="245" y="524" width="241" height="13" fill="url(#g)"/><rect x="245" y="524" width="2" height="13" fill="#000"/>
<text x="238" y="20.2" font-size="13" text-anchor="start" fill="#000068" stroke="#000068" textLength="254.8" lengthAdjust="spacingAndGlyphs">Significant Wave Height with Wave Direction</text><text x="273" y="31.3" font-size="12" text-anchor="start" fill="#000068" stroke="#000068" font-style="italic" textLength="186" lengthAdjust="spacingAndGlyphs">Valid For Dec-06-2017 18:00 GMT</text><text x="156.8" y="482.7" font-size="11" text-anchor="start" fill="#000" stroke="#000" font-style="italic">100 E</text><text x="224.8" y="482.7" font-size="11" text-anchor="start" fill="#000" stroke="#000" font-style="italic">105 E</text><text x="292.8" y="482.7" font-size="11" text-anchor="start" fill="#000" stroke="#000" font-style="italic">110 E</text><text x="360.8" y="482.7" font-size="11" text-anchor="start" fill="#000" stroke="#000" font-style="italic">115 E</text><text x="428.8" y="482.7" font-size="11" text-anchor="start" fill="#000" stroke="#000" font-style="italic">120 E</text><text x="496.8" y="482.7" font-size="11" text-anchor="start" fill="#000" stroke="#000" font-style="italic">125 E</text><text x="564.8" y="482.7" font-size="11" text-anchor="start" fill="#000" stroke="#000" font-style="italic">130 E</text><text x="583" y="400.8" font-size="11" text-anchor="start" fill="#000" stroke="#000" font-style="italic">5 N</text><text x="583" y="332.5" font-size="11" text-anchor="start" fill="#000" stroke="#000" font-style="italic">10 N</text><text x="583" y="263.1" font-size="11" text-anchor="start" fill="#000" stroke="#000" font-style="italic">15 N</text><text x="583" y="192.1" font-size="11" text-anchor="start" fill="#000" stroke="#000" font-style="italic">20 N</text><text x="583" y="118.7" font-size="11" text-anchor="start" fill="#000" stroke="#000" font-style="italic">25 N</text><text x="583" y="42.3" font-size="11" text-anchor="start" fill="#000" stroke="#000" font-style="italic">30 N</text><text x="583.5" y="468.8" font-size="11" text-anchor="start" fill="#000" stroke="#000" font-style="italic">0</text><text x="155" y="496.6" font-size="11" text-anchor="start" fill="#000" stroke="#000" textLength="90.3" lengthAdjust="spacingAndGlyphs">oceanweather inc.</text><text x="458.3" y="493.6" font-size="8" text-anchor="start" fill="#000040" stroke="#000040" font-style="italic" textLength="117.3" lengthAdjust="spacingAndGlyphs">Plotted at Dec 06, 2017 15:16 GMT</text><text x="296" y="509.1" font-size="9.4" text-anchor="start" fill="#000068" stroke="#000068" textLength="137.6" lengthAdjust="spacingAndGlyphs">Significant Wave Height (Meters)</text><text x="300.5" y="556.8" font-size="9.4" text-anchor="start" fill="#000068" stroke="#000068" textLength="129.4" lengthAdjust="spacingAndGlyphs">Significant Wave Height (Feet)</text><text x="246.5" y="520.7" font-size="9.2" text-anchor="middle" fill="#000030" stroke="#000030">0</text><text x="266.6" y="520.7" font-size="9.2" text-anchor="middle" fill="#000030" stroke="#000030">1</text><text x="286.7" y="520.7" font-size="9.2" text-anchor="middle" fill="#000030" stroke="#000030">2</text><text x="306.7" y="520.7" font-size="9.2" text-anchor="middle" fill="#000030" stroke="#000030">3</text><text x="326.8" y="520.7" font-size="9.2" text-anchor="middle" fill="#000030" stroke="#000030">4</text><text x="346.9" y="520.7" font-size="9.2" text-anchor="middle" fill="#000030" stroke="#000030">5</text><text x="367.0" y="520.7" font-size="9.2" text-anchor="middle" fill="#000030" stroke="#000030">6</text><text x="387.1" y="520.7" font-size="9.2" text-anchor="middle" fill="#000030" stroke="#000030">7</text><text x="407.1" y="520.7" font-size="9.2" text-anchor="middle" fill="#000030" stroke="#000030">8</text><text x="427.2" y="520.7" font-size="9.2" text-anchor="middle" fill="#000030" stroke="#000030">9</text><text x="447.3" y="520.7" font-size="9.2" text-anchor="middle" fill="#000030" stroke="#000030">10</text><text x="467.4" y="520.7" font-size="9.2" text-anchor="middle" fill="#000030" stroke="#000030">11</text><text x="487.5" y="520.7" font-size="9.2" text-anchor="middle" fill="#000030" stroke="#000030">12</text><text x="246.5" y="544.6" font-size="9.2" text-anchor="middle" fill="#000030" stroke="#000030">0</text><text x="276.6" y="544.6" font-size="9.2" text-anchor="middle" fill="#000030" stroke="#000030">5</text><text x="306.7" y="544.6" font-size="9.2" text-anchor="middle" fill="#000030" stroke="#000030">10</text><text x="336.8" y="544.6" font-size="9.2" text-anchor="middle" fill="#000030" stroke="#000030">15</text><text x="366.9" y="544.6" font-size="9.2" text-anchor="middle" fill="#000030" stroke="#000030">20</text><text x="397.0" y="544.6" font-size="9.2" text-anchor="middle" fill="#000030" stroke="#000030">25</text><text x="427.1" y="544.6" font-size="9.2" text-anchor="middle" fill="#000030" stroke="#000030">30</text><text x="457.2" y="544.6" font-size="9.2" text-anchor="middle" fill="#000030" stroke="#000030">35</text><text x="487.3" y="544.6" font-size="9.2" text-anchor="middle" fill="#000030" stroke="#000030">40</text>
</svg>
</body></html>
